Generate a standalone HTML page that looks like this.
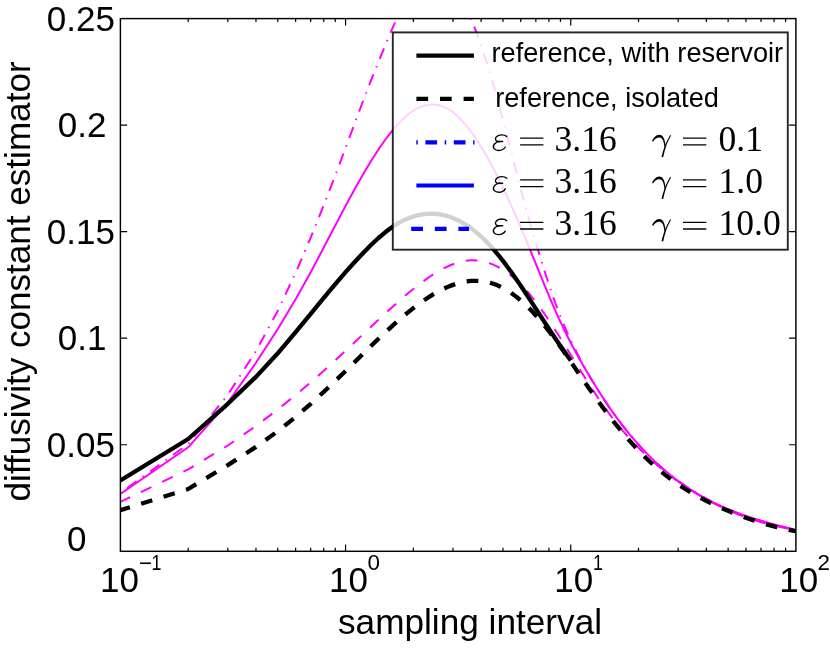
<!DOCTYPE html>
<html><head><meta charset="utf-8"><title>plot</title>
<style>html,body{margin:0;padding:0;background:#fff;}svg{display:block;will-change:transform;}text{font-family:"Liberation Sans",sans-serif;fill:#000;}.ser{font-family:"Liberation Serif",serif;}</style></head><body>
<svg width="830" height="651" viewBox="0 0 830 651">
<rect x="0" y="0" width="830" height="651" fill="#fff"/>
<defs><clipPath id="ax"><rect x="120.4" y="18.6" width="675.5" height="532.6999999999999"/></clipPath></defs>
<g clip-path="url(#ax)" fill="none" stroke-linejoin="round">
<path d="M120.40,492.90 L188.18,444.00 L227.83,394.78 L255.96,351.07 L277.78,310.70 L295.61,272.88 L310.69,237.62 L323.75,205.19 L335.26,175.44 L345.57,147.99 L354.89,122.80 L363.40,100.09 L371.22,79.86 L378.47,61.77 L385.22,45.41 L391.53,30.46 L397.46,16.98 L403.05,5.07 L408.33,-5.20 L413.35,-13.83 L418.12,-20.80 L422.67,-26.10 L427.02,-29.72 L431.18,-31.70 L435.17,-32.05" stroke="#ff00ff" stroke-width="2.0" stroke-dasharray="11.5 7.6 1.5 7.62" stroke-dashoffset="19.85"/>
<path d="M435.17,-32.05 L439.00,-30.93 L442.70,-28.61 L446.25,-25.33 L449.68,-21.28 L453.00,-16.65 L456.20,-11.56 L459.31,-6.13 L462.32,-0.41 L465.24,5.58 L468.07,11.80 L470.83,18.22 L473.51,24.83 L476.11,31.61 L478.65,38.52 L481.13,45.57 L483.55,52.73 L485.90,59.99 L488.20,67.34 L490.45,74.76 L492.65,82.25 L494.80,89.80 L496.90,97.37 L498.96,104.94 L500.98,112.47 L502.95,119.93 L504.89,127.28 L506.79,134.52 L508.65,141.71 L510.48,148.87 L512.27,155.97 L514.03,162.98 L515.76,169.86 L517.47,176.58 L519.14,183.12 L520.78,189.45 L522.40,195.54 L523.99,201.40 L525.55,207.05 L527.09,212.52 L528.61,217.84 L530.10,223.02 L531.57,228.09 L533.02,233.04 L534.45,237.88 L535.85,242.62 L537.24,247.26 L538.61,251.80 L539.96,256.24 L541.29,260.58 L542.60,264.82 L543.90,268.96 L545.17,273.00 L546.44,276.94 L547.68,280.77 L548.91,284.50 L550.13,288.13 L551.33,291.66 L552.51,295.09 L553.68,298.41 L554.84,301.64 L555.98,304.76 L557.12,307.79 L558.23,310.72 L559.34,313.57 L560.43,316.33 L561.51,319.01 L562.58,321.61 L563.64,324.15 L564.68,326.61 L565.72,329.01 L566.74,331.34 L567.75,333.62 L568.76,335.84 L569.75,338.01 L570.73,340.12 L571.71,342.19 L572.67,344.20 L573.62,346.18 L574.57,348.11 L575.50,350.00 L576.43,351.86 L577.35,353.67 L578.26,355.46 L579.16,357.20 L580.05,358.92 L580.94,360.60 L581.82,362.25 L582.68,363.87 L583.55,365.47 L584.40,367.03 L585.25,368.57 L586.09,370.08 L586.92,371.56 L587.74,373.02 L588.56,374.46 L589.37,375.87 L590.18,377.26 L590.98,378.63 L591.77,379.98 L592.55,381.30 L593.33,382.61 L594.11,383.89 L594.87,385.16 L595.63,386.41 L596.39,387.64 L597.14,388.85 L597.88,390.05 L598.62,391.23 L599.35,392.39 L600.08,393.54 L600.80,394.67 L601.52,395.79 L602.23,396.89 L602.94,397.97 L603.64,399.05 L604.33,400.11 L605.02,401.15 L605.71,402.18 L606.39,403.20 L607.07,404.20 L607.74,405.20 L608.41,406.18 L609.07,407.14 L609.73,408.10 L610.38,409.04 L611.03,409.97 L611.68,410.89 L612.32,411.80 L612.96,412.70 L613.59,413.59 L614.22,414.46 L614.84,415.33 L615.46,416.18 L616.08,417.03 L616.69,417.86 L617.30,418.69 L617.91,419.50 L618.51,420.31 L619.11,421.11 L619.70,421.89 L620.29,422.67 L620.88,423.44 L621.47,424.20 L622.05,424.96 L622.62,425.70 L623.20,426.44 L623.77,427.16 L624.33,427.88 L624.90,428.59 L625.46,429.30 L626.01,430.00 L626.57,430.68 L627.12,431.37 L627.67,432.04 L628.21,432.71 L628.75,433.37 L629.29,434.02 L629.83,434.66 L630.36,435.30 L630.89,435.94 L631.42,436.56 L631.94,437.18 L632.46,437.79 L632.98,438.40 L633.50,439.00 L634.01,439.60 L634.52,440.18 L635.03,440.77 L635.54,441.34 L636.04,441.92 L636.54,442.48 L637.04,443.04 L637.53,443.59 L638.03,444.14 L638.52,444.69 L639.00,445.23 L639.49,445.76 L639.97,446.29 L640.45,446.81 L640.93,447.33 L641.41,447.84 L641.88,448.35 L642.35,448.85 L642.82,449.35 L643.29,449.84 L643.75,450.33 L644.21,450.82 L644.67,451.30 L645.13,451.77 L645.59,452.24 L646.04,452.71 L646.49,453.17 L646.94,453.63 L647.39,454.09 L647.84,454.54 L648.28,454.98 L648.72,455.43 L649.16,455.87 L649.60,456.30 L650.03,456.73 L650.47,457.16 L650.90,457.58 L651.33,458.00 L651.76,458.42 L652.18,458.83 L652.61,459.24 L653.03,459.64 L653.45,460.05 L653.87,460.44 L654.29,460.84 L654.70,461.23 L655.11,461.62 L655.53,462.00 L655.94,462.39 L656.34,462.76 L656.75,463.14 L657.16,463.51 L657.56,463.88 L657.96,464.25 L658.36,464.61 L658.76,464.97 L659.16,465.33 L659.55,465.68 L659.94,466.04 L660.34,466.38 L660.73,466.73 L661.12,467.07 L661.50,467.41 L661.89,467.75 L662.27,468.09 L662.66,468.42 L663.04,468.75 L663.42,469.08 L663.79,469.40 L664.17,469.72 L664.55,470.04 L664.92,470.36 L665.29,470.68 L665.66,470.99 L666.03,471.30 L666.40,471.61 L666.77,471.91 L667.14,472.22 L667.50,472.52 L667.86,472.82 L668.22,473.11 L668.58,473.41 L668.94,473.70 L669.30,473.99 L669.66,474.27 L670.01,474.56 L670.37,474.84 L670.72,475.13 L671.07,475.40 L671.42,475.68 L671.77,475.96 L672.11,476.23 L672.46,476.50 L672.81,476.77 L673.15,477.04 L673.49,477.30 L673.83,477.57 L674.17,477.83 L674.51,478.09 L674.85,478.35 L675.19,478.60 L675.52,478.86 L675.86,479.11 L676.19,479.36 L676.52,479.61 L676.85,479.86 L677.18,480.10 L677.51,480.35 L677.84,480.59 L678.17,480.83 L678.49,481.07 L678.81,481.31 L679.14,481.54 L679.46,481.78 L679.78,482.01 L680.10,482.24 L680.42,482.47 L680.74,482.70 L681.06,482.93 L681.37,483.15 L681.69,483.37 L682.00,483.60 L682.31,483.82 L682.63,484.04 L682.94,484.25 L683.25,484.47 L683.56,484.69 L683.86,484.90 L684.17,485.11 L684.48,485.32 L684.78,485.53 L685.09,485.74 L685.39,485.95 L685.69,486.15 L685.99,486.36 L686.29,486.56 L686.59,486.76 L686.89,486.96 L687.19,487.16 L687.49,487.36 L687.78,487.55 L688.08,487.75 L688.37,487.94 L688.66,488.14 L688.96,488.33 L689.25,488.52 L689.54,488.71 L689.83,488.90 L690.12,489.08 L690.40,489.27 L690.69,489.45 L690.98,489.64 L691.26,489.82 L691.55,490.00 L691.83,490.18 L692.12,490.36 L692.40,490.54 L692.68,490.72 L692.96,490.89 L693.24,491.07 L693.52,491.24 L693.80,491.42 L694.07,491.59 L694.35,491.76 L694.63,491.93 L694.90,492.10 L695.18,492.27 L695.45,492.43 L695.72,492.60 L695.99,492.77 L696.27,492.93 L696.54,493.09 L696.81,493.26 L697.07,493.42 L697.34,493.58 L697.61,493.74 L697.88,493.90 L698.14,494.05 L698.41,494.21 L698.67,494.37 L698.94,494.52 L699.20,494.68 L699.46,494.83 L699.72,494.98 L699.99,495.14 L700.25,495.29 L700.51,495.44 L700.77,495.59 L701.02,495.73 L701.28,495.88 L701.54,496.03 L701.79,496.18 L702.05,496.32 L702.31,496.47 L702.56,496.61 L702.81,496.75 L703.07,496.90 L703.32,497.04 L703.57,497.18 L703.82,497.32 L704.07,497.46 L704.32,497.60 L704.57,497.73 L704.82,497.87 L705.07,498.01 L705.31,498.14 L705.56,498.28 L705.81,498.41 L706.05,498.55 L706.30,498.68 L706.54,498.81 L706.78,498.94 L707.03,499.07 L707.27,499.20 L707.51,499.33 L707.75,499.46 L707.99,499.59 L708.23,499.72 L708.47,499.84 L708.71,499.97 L708.95,500.10 L709.19,500.22 L709.42,500.34 L709.66,500.47 L709.90,500.59 L710.13,500.71 L710.37,500.84 L710.60,500.96 L710.84,501.08 L711.07,501.20 L711.30,501.32 L711.53,501.44 L711.76,501.55 L712.00,501.67 L712.23,501.79 L712.46,501.91 L712.68,502.02 L712.91,502.14 L713.14,502.25 L713.37,502.37 L713.60,502.48 L713.82,502.59 L714.05,502.71 L714.27,502.82 L714.50,502.93 L714.72,503.04 L714.95,503.15 L715.17,503.26 L715.39,503.37 L715.62,503.48 L715.84,503.59 L716.06,503.70 L716.28,503.80 L716.50,503.91 L716.72,504.02 L716.94,504.12 L717.16,504.23 L717.38,504.33 L717.60,504.44 L717.82,504.54 L718.03,504.64 L718.25,504.75 L718.46,504.85 L718.68,504.95 L718.90,505.05 L719.11,505.15 L719.32,505.26 L719.54,505.36 L719.75,505.46 L719.96,505.55 L720.18,505.65 L720.39,505.75 L720.60,505.85 L720.81,505.95 L721.02,506.04 L721.23,506.14 L721.44,506.24 L721.65,506.33 L721.86,506.43 L722.07,506.52 L722.28,506.62 L722.48,506.71 L722.69,506.80 L722.90,506.90 L723.10,506.99 L723.31,507.08 L723.51,507.18 L723.72,507.27 L723.92,507.36 L724.13,507.45 L724.33,507.54 L724.53,507.63 L724.74,507.72 L724.94,507.81 L725.14,507.90 L725.34,507.99 L725.54,508.07 L725.74,508.16 L725.94,508.25 L726.14,508.34 L726.34,508.42 L726.54,508.51 L726.74,508.59 L726.94,508.68 L727.14,508.76 L727.33,508.85 L727.53,508.93 L727.73,509.02 L727.92,509.10 L728.12,509.18 L728.31,509.27 L728.51,509.35 L728.70,509.43 L728.90,509.51 L729.09,509.60 L729.28,509.68 L729.48,509.76 L729.67,509.84 L729.86,509.92 L730.05,510.00 L730.25,510.08 L730.44,510.16 L730.63,510.24 L730.82,510.31 L731.01,510.39 L731.20,510.47 L731.39,510.55 L731.58,510.63 L731.77,510.70 L731.95,510.78 L732.14,510.86 L732.33,510.93 L732.52,511.01 L732.70,511.08 L732.89,511.16 L733.08,511.23 L733.26,511.31 L733.45,511.38 L733.63,511.46 L733.82,511.53 L734.00,511.60 L734.18,511.68 L734.37,511.75 L734.55,511.82 L734.73,511.89 L734.92,511.97 L735.10,512.04 L735.28,512.11 L735.46,512.18 L735.64,512.25 L735.82,512.32 L736.01,512.39 L736.19,512.46 L736.37,512.53 L736.55,512.60 L736.72,512.67 L736.90,512.74 L737.08,512.81 L737.26,512.88 L737.44,512.95 L737.62,513.01 L737.79,513.08 L737.97,513.15 L738.15,513.22 L738.32,513.28 L738.50,513.35 L738.68,513.42 L738.85,513.48 L739.03,513.55 L739.20,513.61 L739.37,513.68 L739.55,513.74 L739.72,513.81 L739.90,513.87 L740.07,513.94 L740.24,514.00 L740.42,514.07 L740.59,514.13 L740.76,514.19 L740.93,514.26 L741.10,514.32 L741.27,514.38 L741.44,514.45 L741.61,514.51 L741.79,514.57 L741.96,514.63 L742.12,514.69 L742.29,514.76 L742.46,514.82 L742.63,514.88 L742.80,514.94 L742.97,515.00 L743.14,515.06 L743.30,515.12 L743.47,515.18 L743.64,515.24 L743.81,515.30 L743.97,515.36 L744.14,515.42 L744.30,515.48 L744.47,515.54 L744.63,515.59 L744.80,515.65 L744.96,515.71 L745.13,515.77 L745.29,515.83 L745.46,515.88 L745.62,515.94 L745.78,516.00 L745.95,516.06 L746.11,516.11 L746.27,516.17 L746.43,516.22 L746.60,516.28 L746.76,516.34 L746.92,516.39 L747.08,516.45 L747.24,516.50 L747.40,516.56 L747.56,516.61 L747.72,516.67 L747.88,516.72 L748.04,516.78 L748.20,516.83 L748.36,516.89 L748.52,516.94 L748.68,516.99 L748.84,517.05 L749.00,517.10 L749.15,517.15 L749.31,517.21 L749.47,517.26 L749.63,517.31 L749.78,517.36 L749.94,517.42 L750.10,517.47 L750.25,517.52 L750.41,517.57 L750.56,517.62 L750.72,517.68 L750.87,517.73 L751.03,517.78 L751.18,517.83 L751.34,517.88 L751.49,517.93 L751.65,517.98 L751.80,518.03 L751.95,518.08 L752.11,518.13 L752.26,518.18 L752.41,518.23 L752.56,518.28 L752.72,518.33 L752.87,518.38 L753.02,518.43 L753.17,518.48 L753.32,518.53 L753.47,518.57 L753.62,518.62 L753.77,518.67 L753.92,518.72 L754.07,518.77 L754.22,518.82 L754.37,518.86 L754.52,518.91 L754.67,518.96 L754.82,519.01 L754.97,519.05 L755.12,519.10 L755.27,519.15 L755.42,519.19 L755.56,519.24 L755.71,519.29 L755.86,519.33 L756.01,519.38 L756.15,519.42 L756.30,519.47 L756.45,519.52 L756.59,519.56 L756.74,519.61 L756.88,519.65 L757.03,519.70 L757.17,519.74 L757.32,519.79 L757.46,519.83 L757.61,519.88 L757.75,519.92 L757.90,519.96 L758.04,520.01 L758.19,520.05 L758.33,520.10 L758.47,520.14 L758.62,520.18 L758.76,520.23 L758.90,520.27 L759.05,520.31 L759.19,520.36 L759.33,520.40 L759.47,520.44 L759.61,520.49 L759.76,520.53 L759.90,520.57 L760.04,520.61 L760.18,520.66 L760.32,520.70 L760.46,520.74 L760.60,520.78 L760.74,520.82 L760.88,520.87 L761.02,520.91 L761.16,520.95 L761.30,520.99 L761.44,521.03 L761.58,521.07 L761.72,521.11 L761.86,521.15 L761.99,521.20 L762.13,521.24 L762.27,521.28 L762.41,521.32 L762.55,521.36 L762.68,521.40 L762.82,521.44 L762.96,521.48 L763.09,521.52 L763.23,521.56 L763.37,521.60 L763.50,521.64 L763.64,521.68 L763.78,521.72 L763.91,521.75 L764.05,521.79 L764.18,521.83 L764.32,521.87 L764.45,521.91 L764.59,521.95 L764.72,521.99 L764.86,522.03 L764.99,522.06 L765.12,522.10 L765.26,522.14 L765.39,522.18 L765.53,522.22 L765.66,522.26 L765.79,522.29 L765.93,522.33 L766.06,522.37 L766.19,522.41 L766.32,522.44 L766.46,522.48 L766.59,522.52 L766.72,522.55 L766.85,522.59 L766.98,522.63 L767.11,522.67 L767.25,522.70 L767.38,522.74 L767.51,522.78 L767.64,522.81 L767.77,522.85 L767.90,522.88 L768.03,522.92 L768.16,522.96 L768.29,522.99 L768.42,523.03 L768.55,523.06 L768.68,523.10 L768.81,523.14 L768.93,523.17 L769.06,523.21 L769.19,523.24 L769.32,523.28 L769.45,523.31 L769.58,523.35 L769.70,523.38 L769.83,523.42 L769.96,523.45 L770.09,523.49 L770.21,523.52 L770.34,523.56 L770.47,523.59 L770.60,523.62 L770.72,523.66 L770.85,523.69 L770.97,523.73 L771.10,523.76 L771.23,523.80 L771.35,523.83 L771.48,523.86 L771.60,523.90 L771.73,523.93 L771.85,523.96 L771.98,524.00 L772.10,524.03 L772.23,524.06 L772.35,524.10 L772.48,524.13 L772.60,524.16 L772.73,524.20 L772.85,524.23 L772.97,524.26 L773.10,524.30 L773.22,524.33 L773.34,524.36 L773.47,524.39 L773.59,524.43 L773.71,524.46 L773.83,524.49 L773.96,524.52 L774.08,524.55 L774.20,524.59 L774.32,524.62 L774.45,524.65 L774.57,524.68 L774.69,524.71 L774.81,524.75 L774.93,524.78 L775.05,524.81 L775.17,524.84 L775.29,524.87 L775.41,524.90 L775.54,524.94 L775.66,524.97 L775.78,525.00 L775.90,525.03 L776.02,525.06 L776.14,525.09 L776.25,525.12 L776.37,525.15 L776.49,525.18 L776.61,525.21 L776.73,525.24 L776.85,525.27 L776.97,525.31 L777.09,525.34 L777.21,525.37 L777.32,525.40 L777.44,525.43 L777.56,525.46 L777.68,525.49 L777.80,525.52 L777.91,525.55 L778.03,525.58 L778.15,525.61 L778.27,525.64 L778.38,525.67 L778.50,525.70 L778.62,525.72 L778.73,525.75 L778.85,525.78 L778.97,525.81 L779.08,525.84 L779.20,525.87 L779.31,525.90 L779.43,525.93 L779.55,525.96 L779.66,525.99 L779.78,526.02 L779.89,526.05 L780.01,526.07 L780.12,526.10 L780.24,526.13 L780.35,526.16 L780.47,526.19 L780.58,526.22 L780.70,526.25 L780.81,526.27 L780.92,526.30 L781.04,526.33 L781.15,526.36 L781.26,526.39 L781.38,526.42 L781.49,526.44 L781.61,526.47 L781.72,526.50 L781.83,526.53 L781.94,526.56 L782.06,526.58 L782.17,526.61 L782.28,526.64 L782.39,526.67 L782.51,526.69 L782.62,526.72 L782.73,526.75 L782.84,526.78 L782.95,526.80 L783.07,526.83 L783.18,526.86 L783.29,526.89 L783.40,526.91 L783.51,526.94 L783.62,526.97 L783.73,526.99 L783.84,527.02 L783.95,527.05 L784.06,527.07 L784.17,527.10 L784.28,527.13 L784.39,527.15 L784.50,527.18 L784.61,527.21 L784.72,527.23 L784.83,527.26 L784.94,527.29 L785.05,527.31 L785.16,527.34 L785.27,527.37 L785.38,527.39 L785.49,527.42 L785.60,527.44 L785.71,527.47 L785.81,527.50 L785.92,527.52 L786.03,527.55 L786.14,527.57 L786.25,527.60 L786.35,527.63 L786.46,527.65 L786.57,527.68 L786.68,527.70 L786.78,527.73 L786.89,527.75 L787.00,527.78 L787.11,527.80 L787.21,527.83 L787.32,527.86 L787.43,527.88 L787.53,527.91 L787.64,527.93 L787.75,527.96 L787.85,527.98 L787.96,528.01 L788.06,528.03 L788.17,528.06 L788.28,528.08 L788.38,528.11 L788.49,528.13 L788.59,528.16 L788.70,528.18 L788.80,528.21 L788.91,528.23 L789.01,528.25 L789.12,528.28 L789.22,528.30 L789.33,528.33 L789.43,528.35 L789.54,528.38 L789.64,528.40 L789.75,528.43 L789.85,528.45 L789.95,528.47 L790.06,528.50 L790.16,528.52 L790.26,528.55 L790.37,528.57 L790.47,528.60 L790.57,528.62 L790.68,528.64 L790.78,528.67 L790.88,528.69 L790.99,528.72 L791.09,528.74 L791.19,528.76 L791.29,528.79 L791.40,528.81 L791.50,528.83 L791.60,528.86 L791.70,528.88 L791.81,528.90 L791.91,528.93 L792.01,528.95 L792.11,528.98 L792.21,529.00 L792.31,529.02 L792.42,529.05 L792.52,529.07 L792.62,529.09 L792.72,529.12 L792.82,529.14 L792.92,529.16 L793.02,529.18 L793.12,529.21 L793.22,529.23 L793.32,529.25 L793.42,529.28 L793.52,529.30 L793.62,529.32 L793.72,529.35 L793.82,529.37 L793.92,529.39 L794.02,529.41 L794.12,529.44 L794.22,529.46 L794.32,529.48 L794.42,529.50 L794.52,529.53 L794.62,529.55 L794.72,529.57 L794.82,529.59 L794.92,529.62 L795.02,529.64 L795.11,529.66 L795.21,529.68 L795.31,529.71 L795.41,529.73 L795.51,529.75 L795.61,529.77 L795.70,529.79 L795.80,529.82 L795.90,529.84" stroke="#ff00ff" stroke-width="2.0" stroke-dasharray="11.5 7.6 1.5 7.62" stroke-dashoffset="12.13"/>
<path d="M120.40,493.90 L188.18,447.30 L227.83,402.54 L255.96,362.79 L277.78,328.99 L295.61,299.33 L310.69,272.27 L323.75,247.55 L335.26,225.42 L345.57,205.86 L354.89,188.70 L363.40,173.72 L371.22,160.70 L378.47,149.44 L385.22,139.76 L391.53,131.53 L397.46,124.61 L403.05,118.90 L408.33,114.29 L413.35,110.69 L418.12,107.98 L422.67,106.09 L427.02,104.94 L431.18,104.44 L435.17,104.55 L439.00,105.21 L442.70,106.37 L446.25,107.98 L449.68,110.00 L453.00,112.37 L456.20,115.03 L459.31,117.94 L462.32,121.07 L465.24,124.38 L468.07,127.85 L470.83,131.45 L473.51,135.15 L476.11,138.95 L478.65,142.82 L481.13,146.75 L483.55,150.73 L485.90,154.76 L488.20,158.82 L490.45,162.90 L492.65,167.01 L494.80,171.13 L496.90,175.25 L498.96,179.38 L500.98,183.49 L502.95,187.60 L504.89,191.70 L506.79,195.78 L508.65,199.84 L510.48,203.87 L512.27,207.88 L514.03,211.86 L515.76,215.81 L517.47,219.73 L519.14,223.62 L520.78,227.47 L522.40,231.29 L523.99,235.07 L525.55,238.81 L527.09,242.52 L528.61,246.18 L530.10,249.81 L531.57,253.40 L533.02,256.94 L534.45,260.45 L535.85,263.90 L537.24,267.31 L538.61,270.67 L539.96,273.97 L541.29,277.23 L542.60,280.44 L543.90,283.59 L545.17,286.68 L546.44,289.73 L547.68,292.71 L548.91,295.64 L550.13,298.52 L551.33,301.34 L552.51,304.10 L553.68,306.81 L554.84,309.46 L555.98,312.06 L557.12,314.59 L558.23,317.07 L559.34,319.50 L560.43,321.87 L561.51,324.18 L562.58,326.44 L563.64,328.65 L564.68,330.81 L565.72,332.92 L566.74,334.98 L567.75,337.00 L568.76,338.98 L569.75,340.92 L570.73,342.82 L571.71,344.68 L572.67,346.51 L573.62,348.30 L574.57,350.06 L575.50,351.78 L576.43,353.48 L577.35,355.14 L578.26,356.78 L579.16,358.39 L580.05,359.98 L580.94,361.54 L581.82,363.07 L582.68,364.58 L583.55,366.07 L584.40,367.54 L585.25,368.99 L586.09,370.41 L586.92,371.82 L587.74,373.21 L588.56,374.58 L589.37,375.94 L590.18,377.27 L590.98,378.60 L591.77,379.90 L592.55,381.19 L593.33,382.47 L594.11,383.72 L594.87,384.97 L595.63,386.20 L596.39,387.41 L597.14,388.61 L597.88,389.79 L598.62,390.96 L599.35,392.11 L600.08,393.26 L600.80,394.38 L601.52,395.49 L602.23,396.59 L602.94,397.68 L603.64,398.75 L604.33,399.81 L605.02,400.86 L605.71,401.89 L606.39,402.91 L607.07,403.92 L607.74,404.92 L608.41,405.90 L609.07,406.87 L609.73,407.83 L610.38,408.78 L611.03,409.71 L611.68,410.64 L612.32,411.55 L612.96,412.45 L613.59,413.34 L614.22,414.22 L614.84,415.09 L615.46,415.95 L616.08,416.80 L616.69,417.64 L617.30,418.47 L617.91,419.29 L618.51,420.10 L619.11,420.90 L619.70,421.69 L620.29,422.47 L620.88,423.25 L621.47,424.01 L622.05,424.77 L622.62,425.52 L623.20,426.26 L623.77,426.99 L624.33,427.71 L624.90,428.43 L625.46,429.14 L626.01,429.84 L626.57,430.53 L627.12,431.22 L627.67,431.89 L628.21,432.57 L628.75,433.23 L629.29,433.89 L629.83,434.54 L630.36,435.18 L630.89,435.82 L631.42,436.45 L631.94,437.07 L632.46,437.69 L632.98,438.30 L633.50,438.90 L634.01,439.50 L634.52,440.09 L635.03,440.68 L635.54,441.26 L636.04,441.83 L636.54,442.40 L637.04,442.97 L637.53,443.52 L638.03,444.08 L638.52,444.62 L639.00,445.16 L639.49,445.70 L639.97,446.23 L640.45,446.76 L640.93,447.28 L641.41,447.80 L641.88,448.31 L642.35,448.81 L642.82,449.32 L643.29,449.81 L643.75,450.31 L644.21,450.79 L644.67,451.28 L645.13,451.76 L645.59,452.23 L646.04,452.70 L646.49,453.17 L646.94,453.63 L647.39,454.09 L647.84,454.54 L648.28,454.99 L648.72,455.43 L649.16,455.88 L649.60,456.31 L650.03,456.75 L650.47,457.18 L650.90,457.60 L651.33,458.03 L651.76,458.44 L652.18,458.86 L652.61,459.27 L653.03,459.68 L653.45,460.08 L653.87,460.48 L654.29,460.88 L654.70,461.28 L655.11,461.67 L655.53,462.06 L655.94,462.44 L656.34,462.82 L656.75,463.20 L657.16,463.57 L657.56,463.95 L657.96,464.31 L658.36,464.68 L658.76,465.04 L659.16,465.40 L659.55,465.76 L659.94,466.11 L660.34,466.46 L660.73,466.81 L661.12,467.16 L661.50,467.50 L661.89,467.84 L662.27,468.18 L662.66,468.51 L663.04,468.84 L663.42,469.17 L663.79,469.50 L664.17,469.82 L664.55,470.15 L664.92,470.47 L665.29,470.78 L665.66,471.10 L666.03,471.41 L666.40,471.72 L666.77,472.02 L667.14,472.33 L667.50,472.63 L667.86,472.93 L668.22,473.23 L668.58,473.53 L668.94,473.82 L669.30,474.11 L669.66,474.40 L670.01,474.69 L670.37,474.97 L670.72,475.25 L671.07,475.53 L671.42,475.81 L671.77,476.09 L672.11,476.36 L672.46,476.64 L672.81,476.91 L673.15,477.18 L673.49,477.44 L673.83,477.71 L674.17,477.97 L674.51,478.23 L674.85,478.49 L675.19,478.75 L675.52,479.00 L675.86,479.26 L676.19,479.51 L676.52,479.76 L676.85,480.01 L677.18,480.25 L677.51,480.50 L677.84,480.74 L678.17,480.98 L678.49,481.22 L678.81,481.46 L679.14,481.70 L679.46,481.93 L679.78,482.17 L680.10,482.40 L680.42,482.63 L680.74,482.86 L681.06,483.08 L681.37,483.31 L681.69,483.53 L682.00,483.76 L682.31,483.98 L682.63,484.20 L682.94,484.42 L683.25,484.63 L683.56,484.85 L683.86,485.06 L684.17,485.27 L684.48,485.48 L684.78,485.69 L685.09,485.90 L685.39,486.11 L685.69,486.32 L685.99,486.52 L686.29,486.72 L686.59,486.92 L686.89,487.13 L687.19,487.32 L687.49,487.52 L687.78,487.72 L688.08,487.91 L688.37,488.11 L688.66,488.30 L688.96,488.49 L689.25,488.68 L689.54,488.87 L689.83,489.06 L690.12,489.25 L690.40,489.43 L690.69,489.62 L690.98,489.80 L691.26,489.98 L691.55,490.17 L691.83,490.35 L692.12,490.53 L692.40,490.70 L692.68,490.88 L692.96,491.06 L693.24,491.23 L693.52,491.40 L693.80,491.58 L694.07,491.75 L694.35,491.92 L694.63,492.09 L694.90,492.26 L695.18,492.43 L695.45,492.59 L695.72,492.76 L695.99,492.92 L696.27,493.09 L696.54,493.25 L696.81,493.41 L697.07,493.57 L697.34,493.73 L697.61,493.89 L697.88,494.05 L698.14,494.21 L698.41,494.36 L698.67,494.52 L698.94,494.67 L699.20,494.83 L699.46,494.98 L699.72,495.13 L699.99,495.28 L700.25,495.43 L700.51,495.58 L700.77,495.73 L701.02,495.88 L701.28,496.02 L701.54,496.17 L701.79,496.31 L702.05,496.46 L702.31,496.60 L702.56,496.75 L702.81,496.89 L703.07,497.03 L703.32,497.17 L703.57,497.31 L703.82,497.45 L704.07,497.59 L704.32,497.72 L704.57,497.86 L704.82,498.00 L705.07,498.13 L705.31,498.27 L705.56,498.40 L705.81,498.53 L706.05,498.66 L706.30,498.80 L706.54,498.93 L706.78,499.06 L707.03,499.19 L707.27,499.32 L707.51,499.44 L707.75,499.57 L707.99,499.70 L708.23,499.82 L708.47,499.95 L708.71,500.07 L708.95,500.20 L709.19,500.32 L709.42,500.45 L709.66,500.57 L709.90,500.69 L710.13,500.81 L710.37,500.93 L710.60,501.05 L710.84,501.17 L711.07,501.29 L711.30,501.41 L711.53,501.52 L711.76,501.64 L712.00,501.76 L712.23,501.87 L712.46,501.99 L712.68,502.10 L712.91,502.22 L713.14,502.33 L713.37,502.44 L713.60,502.55 L713.82,502.67 L714.05,502.78 L714.27,502.89 L714.50,503.00 L714.72,503.11 L714.95,503.22 L715.17,503.32 L715.39,503.43 L715.62,503.54 L715.84,503.65 L716.06,503.75 L716.28,503.86 L716.50,503.96 L716.72,504.07 L716.94,504.17 L717.16,504.28 L717.38,504.38 L717.60,504.48 L717.82,504.59 L718.03,504.69 L718.25,504.79 L718.46,504.89 L718.68,504.99 L718.90,505.09 L719.11,505.19 L719.32,505.29 L719.54,505.39 L719.75,505.49 L719.96,505.58 L720.18,505.68 L720.39,505.78 L720.60,505.87 L720.81,505.97 L721.02,506.06 L721.23,506.16 L721.44,506.25 L721.65,506.35 L721.86,506.44 L722.07,506.54 L722.28,506.63 L722.48,506.72 L722.69,506.81 L722.90,506.90 L723.10,507.00 L723.31,507.09 L723.51,507.18 L723.72,507.27 L723.92,507.36 L724.13,507.45 L724.33,507.53 L724.53,507.62 L724.74,507.71 L724.94,507.80 L725.14,507.89 L725.34,507.97 L725.54,508.06 L725.74,508.14 L725.94,508.23 L726.14,508.32 L726.34,508.40 L726.54,508.49 L726.74,508.57 L726.94,508.65 L727.14,508.74 L727.33,508.82 L727.53,508.90 L727.73,508.99 L727.92,509.07 L728.12,509.15 L728.31,509.23 L728.51,509.31 L728.70,509.39 L728.90,509.47 L729.09,509.55 L729.28,509.63 L729.48,509.71 L729.67,509.79 L729.86,509.87 L730.05,509.95 L730.25,510.03 L730.44,510.11 L730.63,510.18 L730.82,510.26 L731.01,510.34 L731.20,510.41 L731.39,510.49 L731.58,510.57 L731.77,510.64 L731.95,510.72 L732.14,510.79 L732.33,510.87 L732.52,510.94 L732.70,511.02 L732.89,511.09 L733.08,511.16 L733.26,511.24 L733.45,511.31 L733.63,511.38 L733.82,511.45 L734.00,511.53 L734.18,511.60 L734.37,511.67 L734.55,511.74 L734.73,511.81 L734.92,511.88 L735.10,511.95 L735.28,512.02 L735.46,512.09 L735.64,512.16 L735.82,512.23 L736.01,512.30 L736.19,512.37 L736.37,512.44 L736.55,512.51 L736.72,512.57 L736.90,512.64 L737.08,512.71 L737.26,512.78 L737.44,512.84 L737.62,512.91 L737.79,512.98 L737.97,513.04 L738.15,513.11 L738.32,513.18 L738.50,513.24 L738.68,513.31 L738.85,513.37 L739.03,513.44 L739.20,513.50 L739.37,513.57 L739.55,513.63 L739.72,513.69 L739.90,513.76 L740.07,513.82 L740.24,513.88 L740.42,513.95 L740.59,514.01 L740.76,514.07 L740.93,514.13 L741.10,514.20 L741.27,514.26 L741.44,514.32 L741.61,514.38 L741.79,514.44 L741.96,514.50 L742.12,514.56 L742.29,514.62 L742.46,514.68 L742.63,514.74 L742.80,514.80 L742.97,514.86 L743.14,514.92 L743.30,514.98 L743.47,515.04 L743.64,515.10 L743.81,515.16 L743.97,515.22 L744.14,515.28 L744.30,515.33 L744.47,515.39 L744.63,515.45 L744.80,515.51 L744.96,515.56 L745.13,515.62 L745.29,515.68 L745.46,515.74 L745.62,515.79 L745.78,515.85 L745.95,515.90 L746.11,515.96 L746.27,516.02 L746.43,516.07 L746.60,516.13 L746.76,516.18 L746.92,516.24 L747.08,516.29 L747.24,516.35 L747.40,516.40 L747.56,516.46 L747.72,516.51 L747.88,516.56 L748.04,516.62 L748.20,516.67 L748.36,516.72 L748.52,516.78 L748.68,516.83 L748.84,516.88 L749.00,516.94 L749.15,516.99 L749.31,517.04 L749.47,517.09 L749.63,517.15 L749.78,517.20 L749.94,517.25 L750.10,517.30 L750.25,517.35 L750.41,517.40 L750.56,517.45 L750.72,517.51 L750.87,517.56 L751.03,517.61 L751.18,517.66 L751.34,517.71 L751.49,517.76 L751.65,517.81 L751.80,517.86 L751.95,517.91 L752.11,517.96 L752.26,518.01 L752.41,518.06 L752.56,518.10 L752.72,518.15 L752.87,518.20 L753.02,518.25 L753.17,518.30 L753.32,518.35 L753.47,518.40 L753.62,518.44 L753.77,518.49 L753.92,518.54 L754.07,518.59 L754.22,518.64 L754.37,518.68 L754.52,518.73 L754.67,518.78 L754.82,518.82 L754.97,518.87 L755.12,518.92 L755.27,518.96 L755.42,519.01 L755.56,519.06 L755.71,519.10 L755.86,519.15 L756.01,519.20 L756.15,519.24 L756.30,519.29 L756.45,519.33 L756.59,519.38 L756.74,519.42 L756.88,519.47 L757.03,519.51 L757.17,519.56 L757.32,519.60 L757.46,519.65 L757.61,519.69 L757.75,519.74 L757.90,519.78 L758.04,519.82 L758.19,519.87 L758.33,519.91 L758.47,519.96 L758.62,520.00 L758.76,520.04 L758.90,520.09 L759.05,520.13 L759.19,520.17 L759.33,520.22 L759.47,520.26 L759.61,520.30 L759.76,520.34 L759.90,520.39 L760.04,520.43 L760.18,520.47 L760.32,520.51 L760.46,520.56 L760.60,520.60 L760.74,520.64 L760.88,520.68 L761.02,520.72 L761.16,520.77 L761.30,520.81 L761.44,520.85 L761.58,520.89 L761.72,520.93 L761.86,520.97 L761.99,521.01 L762.13,521.05 L762.27,521.10 L762.41,521.14 L762.55,521.18 L762.68,521.22 L762.82,521.26 L762.96,521.30 L763.09,521.34 L763.23,521.38 L763.37,521.42 L763.50,521.46 L763.64,521.50 L763.78,521.54 L763.91,521.58 L764.05,521.62 L764.18,521.66 L764.32,521.69 L764.45,521.73 L764.59,521.77 L764.72,521.81 L764.86,521.85 L764.99,521.89 L765.12,521.93 L765.26,521.97 L765.39,522.01 L765.53,522.04 L765.66,522.08 L765.79,522.12 L765.93,522.16 L766.06,522.20 L766.19,522.23 L766.32,522.27 L766.46,522.31 L766.59,522.35 L766.72,522.39 L766.85,522.42 L766.98,522.46 L767.11,522.50 L767.25,522.53 L767.38,522.57 L767.51,522.61 L767.64,522.65 L767.77,522.68 L767.90,522.72 L768.03,522.76 L768.16,522.79 L768.29,522.83 L768.42,522.87 L768.55,522.90 L768.68,522.94 L768.81,522.98 L768.93,523.01 L769.06,523.05 L769.19,523.08 L769.32,523.12 L769.45,523.16 L769.58,523.19 L769.70,523.23 L769.83,523.26 L769.96,523.30 L770.09,523.33 L770.21,523.37 L770.34,523.40 L770.47,523.44 L770.60,523.47 L770.72,523.51 L770.85,523.55 L770.97,523.58 L771.10,523.61 L771.23,523.65 L771.35,523.68 L771.48,523.72 L771.60,523.75 L771.73,523.79 L771.85,523.82 L771.98,523.86 L772.10,523.89 L772.23,523.93 L772.35,523.96 L772.48,523.99 L772.60,524.03 L772.73,524.06 L772.85,524.10 L772.97,524.13 L773.10,524.16 L773.22,524.20 L773.34,524.23 L773.47,524.26 L773.59,524.30 L773.71,524.33 L773.83,524.36 L773.96,524.40 L774.08,524.43 L774.20,524.46 L774.32,524.50 L774.45,524.53 L774.57,524.56 L774.69,524.60 L774.81,524.63 L774.93,524.66 L775.05,524.69 L775.17,524.73 L775.29,524.76 L775.41,524.79 L775.54,524.82 L775.66,524.86 L775.78,524.89 L775.90,524.92 L776.02,524.95 L776.14,524.99 L776.25,525.02 L776.37,525.05 L776.49,525.08 L776.61,525.11 L776.73,525.14 L776.85,525.18 L776.97,525.21 L777.09,525.24 L777.21,525.27 L777.32,525.30 L777.44,525.33 L777.56,525.37 L777.68,525.40 L777.80,525.43 L777.91,525.46 L778.03,525.49 L778.15,525.52 L778.27,525.55 L778.38,525.58 L778.50,525.62 L778.62,525.65 L778.73,525.68 L778.85,525.71 L778.97,525.74 L779.08,525.77 L779.20,525.80 L779.31,525.83 L779.43,525.86 L779.55,525.89 L779.66,525.92 L779.78,525.95 L779.89,525.98 L780.01,526.01 L780.12,526.04 L780.24,526.07 L780.35,526.10 L780.47,526.13 L780.58,526.16 L780.70,526.19 L780.81,526.22 L780.92,526.25 L781.04,526.28 L781.15,526.31 L781.26,526.34 L781.38,526.37 L781.49,526.40 L781.61,526.43 L781.72,526.46 L781.83,526.49 L781.94,526.52 L782.06,526.55 L782.17,526.58 L782.28,526.61 L782.39,526.64 L782.51,526.67 L782.62,526.69 L782.73,526.72 L782.84,526.75 L782.95,526.78 L783.07,526.81 L783.18,526.84 L783.29,526.87 L783.40,526.90 L783.51,526.93 L783.62,526.96 L783.73,526.98 L783.84,527.01 L783.95,527.04 L784.06,527.07 L784.17,527.10 L784.28,527.13 L784.39,527.15 L784.50,527.18 L784.61,527.21 L784.72,527.24 L784.83,527.27 L784.94,527.30 L785.05,527.32 L785.16,527.35 L785.27,527.38 L785.38,527.41 L785.49,527.44 L785.60,527.46 L785.71,527.49 L785.81,527.52 L785.92,527.55 L786.03,527.58 L786.14,527.60 L786.25,527.63 L786.35,527.66 L786.46,527.69 L786.57,527.71 L786.68,527.74 L786.78,527.77 L786.89,527.80 L787.00,527.82 L787.11,527.85 L787.21,527.88 L787.32,527.91 L787.43,527.93 L787.53,527.96 L787.64,527.99 L787.75,528.02 L787.85,528.04 L787.96,528.07 L788.06,528.10 L788.17,528.12 L788.28,528.15 L788.38,528.18 L788.49,528.20 L788.59,528.23 L788.70,528.26 L788.80,528.28 L788.91,528.31 L789.01,528.34 L789.12,528.37 L789.22,528.39 L789.33,528.42 L789.43,528.44 L789.54,528.47 L789.64,528.50 L789.75,528.52 L789.85,528.55 L789.95,528.58 L790.06,528.60 L790.16,528.63 L790.26,528.66 L790.37,528.68 L790.47,528.71 L790.57,528.74 L790.68,528.76 L790.78,528.79 L790.88,528.81 L790.99,528.84 L791.09,528.87 L791.19,528.89 L791.29,528.92 L791.40,528.94 L791.50,528.97 L791.60,529.00 L791.70,529.02 L791.81,529.05 L791.91,529.07 L792.01,529.10 L792.11,529.12 L792.21,529.15 L792.31,529.18 L792.42,529.20 L792.52,529.23 L792.62,529.25 L792.72,529.28 L792.82,529.30 L792.92,529.33 L793.02,529.35 L793.12,529.38 L793.22,529.41 L793.32,529.43 L793.42,529.46 L793.52,529.48 L793.62,529.51 L793.72,529.53 L793.82,529.56 L793.92,529.58 L794.02,529.61 L794.12,529.63 L794.22,529.66 L794.32,529.68 L794.42,529.71 L794.52,529.73 L794.62,529.76 L794.72,529.78 L794.82,529.81 L794.92,529.83 L795.02,529.86 L795.11,529.88 L795.21,529.91 L795.31,529.93 L795.41,529.96 L795.51,529.98 L795.61,530.01 L795.70,530.03 L795.80,530.06 L795.90,530.08" stroke="#ff00ff" stroke-width="2.0"/>
<path d="M120.40,501.90 L188.18,469.40 L227.83,445.50 L255.96,426.01 L277.78,409.47 L295.61,395.09 L310.69,382.33 L323.75,370.85 L335.26,360.40 L345.57,350.81 L354.89,342.01 L363.40,333.93 L371.22,326.51 L378.47,319.71 L385.22,313.46 L391.53,307.72 L397.46,302.43 L403.05,297.57 L408.33,293.10 L413.35,288.98 L418.12,285.20 L422.67,281.74 L427.02,278.59 L431.18,275.74 L435.17,273.18 L439.00,270.89 L442.70,268.86 L446.25,267.07 L449.68,265.53 L453.00,264.20 L456.20,263.09 L459.31,262.18 L462.32,261.46 L465.24,260.92 L468.07,260.56 L470.83,260.36 L473.51,260.32 L476.11,260.42 L478.65,260.66 L481.13,261.03 L483.55,261.51 L485.90,262.09 L488.20,262.78 L490.45,263.56 L492.65,264.42 L494.80,265.37 L496.90,266.38 L498.96,267.47 L500.98,268.62 L502.95,269.83 L504.89,271.09 L506.79,272.41 L508.65,273.78 L510.48,275.19 L512.27,276.64 L514.03,278.13 L515.76,279.66 L517.47,281.23 L519.14,282.82 L520.78,284.45 L522.40,286.10 L523.99,287.78 L525.55,289.49 L527.09,291.22 L528.61,292.97 L530.10,294.74 L531.57,296.53 L533.02,298.33 L534.45,300.15 L535.85,301.98 L537.24,303.82 L538.61,305.66 L539.96,307.51 L541.29,309.37 L542.60,311.22 L543.90,313.07 L545.17,314.92 L546.44,316.77 L547.68,318.61 L548.91,320.45 L550.13,322.28 L551.33,324.10 L552.51,325.91 L553.68,327.71 L554.84,329.50 L555.98,331.29 L557.12,333.05 L558.23,334.81 L559.34,336.55 L560.43,338.28 L561.51,340.00 L562.58,341.70 L563.64,343.39 L564.68,345.07 L565.72,346.73 L566.74,348.37 L567.75,350.01 L568.76,351.62 L569.75,353.22 L570.73,354.81 L571.71,356.38 L572.67,357.94 L573.62,359.48 L574.57,361.00 L575.50,362.52 L576.43,364.01 L577.35,365.49 L578.26,366.95 L579.16,368.40 L580.05,369.84 L580.94,371.26 L581.82,372.66 L582.68,374.05 L583.55,375.42 L584.40,376.78 L585.25,378.12 L586.09,379.45 L586.92,380.76 L587.74,382.06 L588.56,383.34 L589.37,384.61 L590.18,385.86 L590.98,387.10 L591.77,388.32 L592.55,389.53 L593.33,390.72 L594.11,391.90 L594.87,393.07 L595.63,394.22 L596.39,395.36 L597.14,396.48 L597.88,397.59 L598.62,398.69 L599.35,399.77 L600.08,400.84 L600.80,401.89 L601.52,402.93 L602.23,403.96 L602.94,404.98 L603.64,405.98 L604.33,406.97 L605.02,407.94 L605.71,408.90 L606.39,409.85 L607.07,410.79 L607.74,411.72 L608.41,412.63 L609.07,413.53 L609.73,414.41 L610.38,415.29 L611.03,416.15 L611.68,417.00 L612.32,417.84 L612.96,418.67 L613.59,419.49 L614.22,420.30 L614.84,421.10 L615.46,421.89 L616.08,422.66 L616.69,423.43 L617.30,424.19 L617.91,424.94 L618.51,425.68 L619.11,426.41 L619.70,427.13 L620.29,427.84 L620.88,428.55 L621.47,429.24 L622.05,429.93 L622.62,430.61 L623.20,431.28 L623.77,431.94 L624.33,432.60 L624.90,433.25 L625.46,433.89 L626.01,434.52 L626.57,435.15 L627.12,435.77 L627.67,436.38 L628.21,436.99 L628.75,437.59 L629.29,438.18 L629.83,438.76 L630.36,439.34 L630.89,439.92 L631.42,440.49 L631.94,441.05 L632.46,441.60 L632.98,442.15 L633.50,442.70 L634.01,443.24 L634.52,443.77 L635.03,444.30 L635.54,444.82 L636.04,445.34 L636.54,445.85 L637.04,446.36 L637.53,446.86 L638.03,447.36 L638.52,447.85 L639.00,448.34 L639.49,448.82 L639.97,449.30 L640.45,449.77 L640.93,450.24 L641.41,450.71 L641.88,451.17 L642.35,451.63 L642.82,452.08 L643.29,452.53 L643.75,452.97 L644.21,453.41 L644.67,453.85 L645.13,454.28 L645.59,454.71 L646.04,455.13 L646.49,455.56 L646.94,455.97 L647.39,456.39 L647.84,456.80 L648.28,457.21 L648.72,457.61 L649.16,458.01 L649.60,458.41 L650.03,458.80 L650.47,459.19 L650.90,459.58 L651.33,459.97 L651.76,460.35 L652.18,460.73 L652.61,461.10 L653.03,461.47 L653.45,461.84 L653.87,462.21 L654.29,462.57 L654.70,462.94 L655.11,463.29 L655.53,463.65 L655.94,464.00 L656.34,464.35 L656.75,464.70 L657.16,465.05 L657.56,465.39 L657.96,465.73 L658.36,466.07 L658.76,466.40 L659.16,466.74 L659.55,467.07 L659.94,467.40 L660.34,467.72 L660.73,468.05 L661.12,468.37 L661.50,468.69 L661.89,469.00 L662.27,469.32 L662.66,469.63 L663.04,469.94 L663.42,470.25 L663.79,470.55 L664.17,470.86 L664.55,471.16 L664.92,471.46 L665.29,471.76 L665.66,472.05 L666.03,472.35 L666.40,472.64 L666.77,472.93 L667.14,473.21 L667.50,473.50 L667.86,473.78 L668.22,474.07 L668.58,474.35 L668.94,474.62 L669.30,474.90 L669.66,475.17 L670.01,475.45 L670.37,475.72 L670.72,475.99 L671.07,476.25 L671.42,476.52 L671.77,476.78 L672.11,477.05 L672.46,477.31 L672.81,477.57 L673.15,477.82 L673.49,478.08 L673.83,478.33 L674.17,478.58 L674.51,478.84 L674.85,479.08 L675.19,479.33 L675.52,479.58 L675.86,479.82 L676.19,480.07 L676.52,480.31 L676.85,480.55 L677.18,480.79 L677.51,481.02 L677.84,481.26 L678.17,481.49 L678.49,481.73 L678.81,481.96 L679.14,482.19 L679.46,482.41 L679.78,482.64 L680.10,482.87 L680.42,483.09 L680.74,483.31 L681.06,483.54 L681.37,483.76 L681.69,483.98 L682.00,484.19 L682.31,484.41 L682.63,484.63 L682.94,484.84 L683.25,485.05 L683.56,485.26 L683.86,485.47 L684.17,485.68 L684.48,485.89 L684.78,486.10 L685.09,486.30 L685.39,486.51 L685.69,486.71 L685.99,486.91 L686.29,487.11 L686.59,487.31 L686.89,487.51 L687.19,487.71 L687.49,487.90 L687.78,488.10 L688.08,488.29 L688.37,488.48 L688.66,488.68 L688.96,488.87 L689.25,489.06 L689.54,489.25 L689.83,489.43 L690.12,489.62 L690.40,489.80 L690.69,489.99 L690.98,490.17 L691.26,490.35 L691.55,490.54 L691.83,490.72 L692.12,490.90 L692.40,491.07 L692.68,491.25 L692.96,491.43 L693.24,491.60 L693.52,491.78 L693.80,491.95 L694.07,492.12 L694.35,492.30 L694.63,492.47 L694.90,492.64 L695.18,492.81 L695.45,492.97 L695.72,493.14 L695.99,493.31 L696.27,493.47 L696.54,493.64 L696.81,493.80 L697.07,493.97 L697.34,494.13 L697.61,494.29 L697.88,494.45 L698.14,494.61 L698.41,494.77 L698.67,494.93 L698.94,495.08 L699.20,495.24 L699.46,495.39 L699.72,495.55 L699.99,495.70 L700.25,495.86 L700.51,496.01 L700.77,496.16 L701.02,496.31 L701.28,496.46 L701.54,496.61 L701.79,496.76 L702.05,496.91 L702.31,497.05 L702.56,497.20 L702.81,497.34 L703.07,497.49 L703.32,497.63 L703.57,497.78 L703.82,497.92 L704.07,498.06 L704.32,498.20 L704.57,498.34 L704.82,498.48 L705.07,498.62 L705.31,498.76 L705.56,498.90 L705.81,499.04 L706.05,499.17 L706.30,499.31 L706.54,499.44 L706.78,499.58 L707.03,499.71 L707.27,499.84 L707.51,499.98 L707.75,500.11 L707.99,500.24 L708.23,500.37 L708.47,500.50 L708.71,500.63 L708.95,500.76 L709.19,500.89 L709.42,501.02 L709.66,501.14 L709.90,501.27 L710.13,501.39 L710.37,501.52 L710.60,501.64 L710.84,501.77 L711.07,501.89 L711.30,502.01 L711.53,502.14 L711.76,502.26 L712.00,502.38 L712.23,502.50 L712.46,502.62 L712.68,502.74 L712.91,502.86 L713.14,502.98 L713.37,503.09 L713.60,503.21 L713.82,503.33 L714.05,503.44 L714.27,503.56 L714.50,503.67 L714.72,503.79 L714.95,503.90 L715.17,504.02 L715.39,504.13 L715.62,504.24 L715.84,504.35 L716.06,504.46 L716.28,504.58 L716.50,504.69 L716.72,504.80 L716.94,504.91 L717.16,505.01 L717.38,505.12 L717.60,505.23 L717.82,505.34 L718.03,505.44 L718.25,505.55 L718.46,505.66 L718.68,505.76 L718.90,505.87 L719.11,505.97 L719.32,506.08 L719.54,506.18 L719.75,506.28 L719.96,506.39 L720.18,506.49 L720.39,506.59 L720.60,506.69 L720.81,506.79 L721.02,506.89 L721.23,506.99 L721.44,507.09 L721.65,507.19 L721.86,507.29 L722.07,507.39 L722.28,507.49 L722.48,507.59 L722.69,507.68 L722.90,507.78 L723.10,507.87 L723.31,507.97 L723.51,508.07 L723.72,508.16 L723.92,508.26 L724.13,508.35 L724.33,508.44 L724.53,508.54 L724.74,508.63 L724.94,508.72 L725.14,508.81 L725.34,508.91 L725.54,509.00 L725.74,509.09 L725.94,509.18 L726.14,509.27 L726.34,509.36 L726.54,509.45 L726.74,509.54 L726.94,509.63 L727.14,509.72 L727.33,509.80 L727.53,509.89 L727.73,509.98 L727.92,510.07 L728.12,510.15 L728.31,510.24 L728.51,510.32 L728.70,510.41 L728.90,510.49 L729.09,510.58 L729.28,510.66 L729.48,510.75 L729.67,510.83 L729.86,510.91 L730.05,511.00 L730.25,511.08 L730.44,511.16 L730.63,511.24 L730.82,511.33 L731.01,511.41 L731.20,511.49 L731.39,511.57 L731.58,511.65 L731.77,511.73 L731.95,511.81 L732.14,511.89 L732.33,511.97 L732.52,512.05 L732.70,512.12 L732.89,512.20 L733.08,512.28 L733.26,512.36 L733.45,512.43 L733.63,512.51 L733.82,512.59 L734.00,512.66 L734.18,512.74 L734.37,512.82 L734.55,512.89 L734.73,512.97 L734.92,513.04 L735.10,513.12 L735.28,513.19 L735.46,513.26 L735.64,513.34 L735.82,513.41 L736.01,513.48 L736.19,513.56 L736.37,513.63 L736.55,513.70 L736.72,513.77 L736.90,513.84 L737.08,513.91 L737.26,513.99 L737.44,514.06 L737.62,514.13 L737.79,514.20 L737.97,514.27 L738.15,514.34 L738.32,514.40 L738.50,514.47 L738.68,514.54 L738.85,514.61 L739.03,514.68 L739.20,514.75 L739.37,514.81 L739.55,514.88 L739.72,514.95 L739.90,515.02 L740.07,515.08 L740.24,515.15 L740.42,515.22 L740.59,515.28 L740.76,515.35 L740.93,515.41 L741.10,515.48 L741.27,515.54 L741.44,515.61 L741.61,515.67 L741.79,515.74 L741.96,515.80 L742.12,515.86 L742.29,515.93 L742.46,515.99 L742.63,516.05 L742.80,516.11 L742.97,516.18 L743.14,516.24 L743.30,516.30 L743.47,516.36 L743.64,516.42 L743.81,516.49 L743.97,516.55 L744.14,516.61 L744.30,516.67 L744.47,516.73 L744.63,516.79 L744.80,516.85 L744.96,516.91 L745.13,516.97 L745.29,517.03 L745.46,517.09 L745.62,517.14 L745.78,517.20 L745.95,517.26 L746.11,517.32 L746.27,517.38 L746.43,517.43 L746.60,517.49 L746.76,517.55 L746.92,517.61 L747.08,517.66 L747.24,517.72 L747.40,517.78 L747.56,517.83 L747.72,517.89 L747.88,517.94 L748.04,518.00 L748.20,518.06 L748.36,518.11 L748.52,518.17 L748.68,518.22 L748.84,518.27 L749.00,518.33 L749.15,518.38 L749.31,518.44 L749.47,518.49 L749.63,518.54 L749.78,518.60 L749.94,518.65 L750.10,518.70 L750.25,518.76 L750.41,518.81 L750.56,518.86 L750.72,518.91 L750.87,518.97 L751.03,519.02 L751.18,519.07 L751.34,519.12 L751.49,519.17 L751.65,519.22 L751.80,519.27 L751.95,519.33 L752.11,519.38 L752.26,519.43 L752.41,519.48 L752.56,519.53 L752.72,519.58 L752.87,519.63 L753.02,519.68 L753.17,519.72 L753.32,519.77 L753.47,519.82 L753.62,519.87 L753.77,519.92 L753.92,519.97 L754.07,520.02 L754.22,520.06 L754.37,520.11 L754.52,520.16 L754.67,520.21 L754.82,520.26 L754.97,520.30 L755.12,520.35 L755.27,520.40 L755.42,520.44 L755.56,520.49 L755.71,520.54 L755.86,520.58 L756.01,520.63 L756.15,520.67 L756.30,520.72 L756.45,520.77 L756.59,520.81 L756.74,520.86 L756.88,520.90 L757.03,520.95 L757.17,520.99 L757.32,521.04 L757.46,521.08 L757.61,521.12 L757.75,521.17 L757.90,521.21 L758.04,521.26 L758.19,521.30 L758.33,521.34 L758.47,521.39 L758.62,521.43 L758.76,521.47 L758.90,521.52 L759.05,521.56 L759.19,521.60 L759.33,521.64 L759.47,521.69 L759.61,521.73 L759.76,521.77 L759.90,521.81 L760.04,521.86 L760.18,521.90 L760.32,521.94 L760.46,521.98 L760.60,522.02 L760.74,522.06 L760.88,522.10 L761.02,522.14 L761.16,522.18 L761.30,522.22 L761.44,522.27 L761.58,522.31 L761.72,522.35 L761.86,522.39 L761.99,522.43 L762.13,522.46 L762.27,522.50 L762.41,522.54 L762.55,522.58 L762.68,522.62 L762.82,522.66 L762.96,522.70 L763.09,522.74 L763.23,522.78 L763.37,522.82 L763.50,522.85 L763.64,522.89 L763.78,522.93 L763.91,522.97 L764.05,523.01 L764.18,523.04 L764.32,523.08 L764.45,523.12 L764.59,523.16 L764.72,523.19 L764.86,523.23 L764.99,523.27 L765.12,523.30 L765.26,523.34 L765.39,523.38 L765.53,523.41 L765.66,523.45 L765.79,523.49 L765.93,523.52 L766.06,523.56 L766.19,523.59 L766.32,523.63 L766.46,523.67 L766.59,523.70 L766.72,523.74 L766.85,523.77 L766.98,523.81 L767.11,523.84 L767.25,523.88 L767.38,523.91 L767.51,523.95 L767.64,523.98 L767.77,524.02 L767.90,524.05 L768.03,524.08 L768.16,524.12 L768.29,524.15 L768.42,524.19 L768.55,524.22 L768.68,524.25 L768.81,524.29 L768.93,524.32 L769.06,524.35 L769.19,524.39 L769.32,524.42 L769.45,524.45 L769.58,524.49 L769.70,524.52 L769.83,524.55 L769.96,524.58 L770.09,524.62 L770.21,524.65 L770.34,524.68 L770.47,524.71 L770.60,524.74 L770.72,524.78 L770.85,524.81 L770.97,524.84 L771.10,524.87 L771.23,524.90 L771.35,524.93 L771.48,524.97 L771.60,525.00 L771.73,525.03 L771.85,525.06 L771.98,525.09 L772.10,525.12 L772.23,525.15 L772.35,525.18 L772.48,525.21 L772.60,525.24 L772.73,525.27 L772.85,525.30 L772.97,525.33 L773.10,525.36 L773.22,525.39 L773.34,525.42 L773.47,525.45 L773.59,525.48 L773.71,525.51 L773.83,525.54 L773.96,525.57 L774.08,525.60 L774.20,525.63 L774.32,525.66 L774.45,525.69 L774.57,525.71 L774.69,525.74 L774.81,525.77 L774.93,525.80 L775.05,525.83 L775.17,525.86 L775.29,525.89 L775.41,525.91 L775.54,525.94 L775.66,525.97 L775.78,526.00 L775.90,526.03 L776.02,526.05 L776.14,526.08 L776.25,526.11 L776.37,526.14 L776.49,526.16 L776.61,526.19 L776.73,526.22 L776.85,526.25 L776.97,526.27 L777.09,526.30 L777.21,526.33 L777.32,526.35 L777.44,526.38 L777.56,526.41 L777.68,526.43 L777.80,526.46 L777.91,526.49 L778.03,526.51 L778.15,526.54 L778.27,526.56 L778.38,526.59 L778.50,526.62 L778.62,526.64 L778.73,526.67 L778.85,526.69 L778.97,526.72 L779.08,526.74 L779.20,526.77 L779.31,526.79 L779.43,526.82 L779.55,526.84 L779.66,526.87 L779.78,526.89 L779.89,526.92 L780.01,526.94 L780.12,526.97 L780.24,526.99 L780.35,527.02 L780.47,527.04 L780.58,527.07 L780.70,527.09 L780.81,527.12 L780.92,527.14 L781.04,527.16 L781.15,527.19 L781.26,527.21 L781.38,527.24 L781.49,527.26 L781.61,527.28 L781.72,527.31 L781.83,527.33 L781.94,527.36 L782.06,527.38 L782.17,527.40 L782.28,527.43 L782.39,527.45 L782.51,527.47 L782.62,527.49 L782.73,527.52 L782.84,527.54 L782.95,527.56 L783.07,527.59 L783.18,527.61 L783.29,527.63 L783.40,527.65 L783.51,527.68 L783.62,527.70 L783.73,527.72 L783.84,527.74 L783.95,527.77 L784.06,527.79 L784.17,527.81 L784.28,527.83 L784.39,527.85 L784.50,527.88 L784.61,527.90 L784.72,527.92 L784.83,527.94 L784.94,527.96 L785.05,527.98 L785.16,528.01 L785.27,528.03 L785.38,528.05 L785.49,528.07 L785.60,528.09 L785.71,528.11 L785.81,528.13 L785.92,528.15 L786.03,528.18 L786.14,528.20 L786.25,528.22 L786.35,528.24 L786.46,528.26 L786.57,528.28 L786.68,528.30 L786.78,528.32 L786.89,528.34 L787.00,528.36 L787.11,528.38 L787.21,528.40 L787.32,528.42 L787.43,528.44 L787.53,528.46 L787.64,528.48 L787.75,528.50 L787.85,528.52 L787.96,528.54 L788.06,528.56 L788.17,528.58 L788.28,528.60 L788.38,528.62 L788.49,528.64 L788.59,528.66 L788.70,528.68 L788.80,528.70 L788.91,528.72 L789.01,528.74 L789.12,528.76 L789.22,528.77 L789.33,528.79 L789.43,528.81 L789.54,528.83 L789.64,528.85 L789.75,528.87 L789.85,528.89 L789.95,528.91 L790.06,528.92 L790.16,528.94 L790.26,528.96 L790.37,528.98 L790.47,529.00 L790.57,529.02 L790.68,529.03 L790.78,529.05 L790.88,529.07 L790.99,529.09 L791.09,529.11 L791.19,529.13 L791.29,529.14 L791.40,529.16 L791.50,529.18 L791.60,529.20 L791.70,529.21 L791.81,529.23 L791.91,529.25 L792.01,529.27 L792.11,529.28 L792.21,529.30 L792.31,529.32 L792.42,529.34 L792.52,529.35 L792.62,529.37 L792.72,529.39 L792.82,529.41 L792.92,529.42 L793.02,529.44 L793.12,529.46 L793.22,529.47 L793.32,529.49 L793.42,529.51 L793.52,529.52 L793.62,529.54 L793.72,529.56 L793.82,529.57 L793.92,529.59 L794.02,529.61 L794.12,529.62 L794.22,529.64 L794.32,529.66 L794.42,529.67 L794.52,529.69 L794.62,529.70 L794.72,529.72 L794.82,529.74 L794.92,529.75 L795.02,529.77 L795.11,529.78 L795.21,529.80 L795.31,529.82 L795.41,529.83 L795.51,529.85 L795.61,529.86 L795.70,529.88 L795.80,529.89 L795.90,529.91" stroke="#ff00ff" stroke-width="2.0" stroke-dasharray="11.7 11.95" stroke-dashoffset="1.0"/>
<path d="M120.40,480.50 L188.18,439.00 L227.83,403.82 L255.96,376.88 L277.78,353.29 L295.61,332.21 L310.69,313.81 L323.75,297.89 L335.26,284.14 L345.57,272.19 L354.89,261.77 L363.40,252.66 L371.22,244.75 L378.47,237.99 L385.22,232.28 L391.53,227.55 L397.46,223.71 L403.05,220.66 L408.33,218.28 L413.35,216.47 L418.12,215.17 L422.67,214.30 L427.02,213.82 L431.18,213.67 L435.17,213.83 L439.00,214.25 L442.70,214.90 L446.25,215.76 L449.68,216.81 L453.00,218.03 L456.20,219.40 L459.31,220.91 L462.32,222.54 L465.24,224.28 L468.07,226.12 L470.83,228.05 L473.51,230.07 L476.11,232.15 L478.65,234.31 L481.13,236.52 L483.55,238.80 L485.90,241.12 L488.20,243.49 L490.45,245.90 L492.65,248.34 L494.80,250.82 L496.90,253.32 L498.96,255.83 L500.98,258.36 L502.95,260.89 L504.89,263.43 L506.79,265.96 L508.65,268.49 L510.48,271.01 L512.27,273.52 L514.03,276.02 L515.76,278.50 L517.47,280.96 L519.14,283.41 L520.78,285.83 L522.40,288.24 L523.99,290.62 L525.55,292.97 L527.09,295.30 L528.61,297.61 L530.10,299.89 L531.57,302.14 L533.02,304.36 L534.45,306.56 L535.85,308.72 L537.24,310.86 L538.61,312.97 L539.96,315.05 L541.29,317.11 L542.60,319.13 L543.90,321.12 L545.17,323.08 L546.44,325.02 L547.68,326.92 L548.91,328.80 L550.13,330.65 L551.33,332.46 L552.51,334.25 L553.68,336.01 L554.84,337.74 L555.98,339.44 L557.12,341.12 L558.23,342.76 L559.34,344.38 L560.43,345.97 L561.51,347.54 L562.58,349.07 L563.64,350.58 L564.68,352.06 L565.72,353.52 L566.74,354.95 L567.75,356.35 L568.76,357.73 L569.75,359.08 L570.73,360.41" stroke="#000" stroke-width="4.3"/>
<path d="M120.40,510.20 L188.18,489.00 L227.83,465.11 L255.96,446.90 L277.78,431.20 L295.61,416.95 L310.69,403.84 L323.75,391.87 L335.26,380.95 L345.57,370.98 L354.89,361.86 L363.40,353.49 L371.22,345.83 L378.47,338.82 L385.22,332.43 L391.53,326.59 L397.46,321.28 L403.05,316.44 L408.33,312.05 L413.35,308.06 L418.12,304.45 L422.67,301.18 L427.02,298.23 L431.18,295.58 L435.17,293.21 L439.00,291.09 L442.70,289.21 L446.25,287.56 L449.68,286.12 L453.00,284.88 L456.20,283.83 L459.31,282.94 L462.32,282.23 L465.24,281.66 L468.07,281.25 L470.83,280.97 L473.51,280.82 L476.11,280.79 L478.65,280.88 L481.13,281.08 L483.55,281.38 L485.90,281.78 L488.20,282.27 L490.45,282.86 L492.65,283.52 L494.80,284.27 L496.90,285.10 L498.96,285.99 L500.98,286.95 L502.95,287.97 L504.89,289.05 L506.79,290.17 L508.65,291.34 L510.48,292.56 L512.27,293.81 L514.03,295.09 L515.76,296.41 L517.47,297.76 L519.14,299.14 L520.78,300.54 L522.40,301.96 L523.99,303.40 L525.55,304.86 L527.09,306.34 L528.61,307.83 L530.10,309.33 L531.57,310.85 L533.02,312.38 L534.45,313.92 L535.85,315.46 L537.24,317.01 L538.61,318.57 L539.96,320.14 L541.29,321.70 L542.60,323.28 L543.90,324.85 L545.17,326.43 L546.44,328.01 L547.68,329.59 L548.91,331.17 L550.13,332.75 L551.33,334.33 L552.51,335.91 L553.68,337.48 L554.84,339.05 L555.98,340.61 L557.12,342.17 L558.23,343.72 L559.34,345.27 L560.43,346.80 L561.51,348.33 L562.58,349.85 L563.64,351.36 L564.68,352.87 L565.72,354.36 L566.74,355.84 L567.75,357.31 L568.76,358.77 L569.75,360.22 L570.73,361.65 L571.71,363.08 L572.67,364.49 L573.62,365.89 L574.57,367.28 L575.50,368.65 L576.43,370.01 L577.35,371.36 L578.26,372.70 L579.16,374.02 L580.05,375.33 L580.94,376.63 L581.82,377.91 L582.68,379.18 L583.55,380.44 L584.40,381.68 L585.25,382.91 L586.09,384.12 L586.92,385.33 L587.74,386.51 L588.56,387.69 L589.37,388.85 L590.18,389.99 L590.98,391.13 L591.77,392.25 L592.55,393.36 L593.33,394.45 L594.11,395.54 L594.87,396.61 L595.63,397.67 L596.39,398.72 L597.14,399.75 L597.88,400.78 L598.62,401.79 L599.35,402.79 L600.08,403.78 L600.80,404.76 L601.52,405.73 L602.23,406.69 L602.94,407.64 L603.64,408.58 L604.33,409.51 L605.02,410.43 L605.71,411.33 L606.39,412.23 L607.07,413.12 L607.74,414.00 L608.41,414.87 L609.07,415.74 L609.73,416.59 L610.38,417.43 L611.03,418.27 L611.68,419.09 L612.32,419.91 L612.96,420.72 L613.59,421.52 L614.22,422.32 L614.84,423.10 L615.46,423.88 L616.08,424.65 L616.69,425.41 L617.30,426.16 L617.91,426.91 L618.51,427.64 L619.11,428.38 L619.70,429.10 L620.29,429.81 L620.88,430.52 L621.47,431.23 L622.05,431.92 L622.62,432.61 L623.20,433.29 L623.77,433.96 L624.33,434.63 L624.90,435.29 L625.46,435.95 L626.01,436.60 L626.57,437.24 L627.12,437.87 L627.67,438.50 L628.21,439.13 L628.75,439.74 L629.29,440.36 L629.83,440.96 L630.36,441.56 L630.89,442.15 L631.42,442.74 L631.94,443.33 L632.46,443.90 L632.98,444.47 L633.50,445.04 L634.01,445.60 L634.52,446.15 L635.03,446.70 L635.54,447.25 L636.04,447.79 L636.54,448.32 L637.04,448.85 L637.53,449.37 L638.03,449.89 L638.52,450.41 L639.00,450.92 L639.49,451.42 L639.97,451.92 L640.45,452.41 L640.93,452.90 L641.41,453.39 L641.88,453.87 L642.35,454.35 L642.82,454.82 L643.29,455.29 L643.75,455.75 L644.21,456.21 L644.67,456.66 L645.13,457.11 L645.59,457.56 L646.04,458.00 L646.49,458.44 L646.94,458.87 L647.39,459.30 L647.84,459.73 L648.28,460.15 L648.72,460.57 L649.16,460.98 L649.60,461.39 L650.03,461.80 L650.47,462.20 L650.90,462.60 L651.33,462.99 L651.76,463.38 L652.18,463.77 L652.61,464.16 L653.03,464.54 L653.45,464.92 L653.87,465.29 L654.29,465.66 L654.70,466.03 L655.11,466.39 L655.53,466.76 L655.94,467.12 L656.34,467.47 L656.75,467.82 L657.16,468.17 L657.56,468.52 L657.96,468.86 L658.36,469.20 L658.76,469.54 L659.16,469.87 L659.55,470.21 L659.94,470.54 L660.34,470.86 L660.73,471.19 L661.12,471.51 L661.50,471.83 L661.89,472.14 L662.27,472.45 L662.66,472.77 L663.04,473.07 L663.42,473.38 L663.79,473.68 L664.17,473.98 L664.55,474.28 L664.92,474.58 L665.29,474.87 L665.66,475.16 L666.03,475.45 L666.40,475.74 L666.77,476.02 L667.14,476.31 L667.50,476.59 L667.86,476.87 L668.22,477.14 L668.58,477.41 L668.94,477.69 L669.30,477.96 L669.66,478.22 L670.01,478.49 L670.37,478.75 L670.72,479.01 L671.07,479.27 L671.42,479.53 L671.77,479.79 L672.11,480.04 L672.46,480.29 L672.81,480.54 L673.15,480.79 L673.49,481.04 L673.83,481.28 L674.17,481.53 L674.51,481.77 L674.85,482.01 L675.19,482.25 L675.52,482.48 L675.86,482.72 L676.19,482.95 L676.52,483.18 L676.85,483.41 L677.18,483.64 L677.51,483.86 L677.84,484.09 L678.17,484.31 L678.49,484.53 L678.81,484.75 L679.14,484.97 L679.46,485.19 L679.78,485.41 L680.10,485.62 L680.42,485.83 L680.74,486.04 L681.06,486.25 L681.37,486.46 L681.69,486.67 L682.00,486.87 L682.31,487.08 L682.63,487.28 L682.94,487.48 L683.25,487.68 L683.56,487.88 L683.86,488.08 L684.17,488.28 L684.48,488.47 L684.78,488.67 L685.09,488.86 L685.39,489.05 L685.69,489.24 L685.99,489.43 L686.29,489.62 L686.59,489.80 L686.89,489.99 L687.19,490.17 L687.49,490.36 L687.78,490.54 L688.08,490.72 L688.37,490.90 L688.66,491.08 L688.96,491.25 L689.25,491.43 L689.54,491.61 L689.83,491.78 L690.12,491.95 L690.40,492.13 L690.69,492.30 L690.98,492.47 L691.26,492.64 L691.55,492.80 L691.83,492.97 L692.12,493.14 L692.40,493.30 L692.68,493.47 L692.96,493.63 L693.24,493.79 L693.52,493.95 L693.80,494.11 L694.07,494.27 L694.35,494.43 L694.63,494.59 L694.90,494.75 L695.18,494.90 L695.45,495.06 L695.72,495.21 L695.99,495.36 L696.27,495.52 L696.54,495.67 L696.81,495.82 L697.07,495.97 L697.34,496.12 L697.61,496.26 L697.88,496.41 L698.14,496.56 L698.41,496.70 L698.67,496.85 L698.94,496.99 L699.20,497.14 L699.46,497.28 L699.72,497.42 L699.99,497.56 L700.25,497.70 L700.51,497.84 L700.77,497.98 L701.02,498.12 L701.28,498.25 L701.54,498.39 L701.79,498.53 L702.05,498.66 L702.31,498.80 L702.56,498.93 L702.81,499.06 L703.07,499.20 L703.32,499.33 L703.57,499.46 L703.82,499.59 L704.07,499.72 L704.32,499.85 L704.57,499.98 L704.82,500.10 L705.07,500.23 L705.31,500.36 L705.56,500.48 L705.81,500.61 L706.05,500.73 L706.30,500.86 L706.54,500.98 L706.78,501.10 L707.03,501.22 L707.27,501.35 L707.51,501.47 L707.75,501.59 L707.99,501.71 L708.23,501.83 L708.47,501.94 L708.71,502.06 L708.95,502.18 L709.19,502.30 L709.42,502.41 L709.66,502.53 L709.90,502.64 L710.13,502.76 L710.37,502.87 L710.60,502.99 L710.84,503.10 L711.07,503.21 L711.30,503.33 L711.53,503.44 L711.76,503.55 L712.00,503.66 L712.23,503.77 L712.46,503.88 L712.68,503.99 L712.91,504.10 L713.14,504.21 L713.37,504.31 L713.60,504.42 L713.82,504.53 L714.05,504.63 L714.27,504.74 L714.50,504.84 L714.72,504.95 L714.95,505.05 L715.17,505.16 L715.39,505.26 L715.62,505.36 L715.84,505.47 L716.06,505.57 L716.28,505.67 L716.50,505.77 L716.72,505.87 L716.94,505.97 L717.16,506.07 L717.38,506.17 L717.60,506.27 L717.82,506.37 L718.03,506.47 L718.25,506.57 L718.46,506.67 L718.68,506.76 L718.90,506.86 L719.11,506.96 L719.32,507.05 L719.54,507.15 L719.75,507.24 L719.96,507.34 L720.18,507.43 L720.39,507.53 L720.60,507.62 L720.81,507.71 L721.02,507.81 L721.23,507.90 L721.44,507.99 L721.65,508.08 L721.86,508.18 L722.07,508.27 L722.28,508.36 L722.48,508.45 L722.69,508.54 L722.90,508.63 L723.10,508.72 L723.31,508.81 L723.51,508.90 L723.72,508.99 L723.92,509.07 L724.13,509.16 L724.33,509.25 L724.53,509.34 L724.74,509.42 L724.94,509.51 L725.14,509.60 L725.34,509.68 L725.54,509.77 L725.74,509.85 L725.94,509.94 L726.14,510.02 L726.34,510.11 L726.54,510.19 L726.74,510.28 L726.94,510.36 L727.14,510.44 L727.33,510.53 L727.53,510.61 L727.73,510.69 L727.92,510.77 L728.12,510.86 L728.31,510.94 L728.51,511.02 L728.70,511.10 L728.90,511.18 L729.09,511.26 L729.28,511.34 L729.48,511.42 L729.67,511.50 L729.86,511.58 L730.05,511.66 L730.25,511.74 L730.44,511.81 L730.63,511.89 L730.82,511.97 L731.01,512.05 L731.20,512.12 L731.39,512.20 L731.58,512.28 L731.77,512.36 L731.95,512.43 L732.14,512.51 L732.33,512.58 L732.52,512.66 L732.70,512.73 L732.89,512.81 L733.08,512.88 L733.26,512.96 L733.45,513.03 L733.63,513.11 L733.82,513.18 L734.00,513.25 L734.18,513.33 L734.37,513.40 L734.55,513.47 L734.73,513.54 L734.92,513.62 L735.10,513.69 L735.28,513.76 L735.46,513.83 L735.64,513.90 L735.82,513.97 L736.01,514.04 L736.19,514.11 L736.37,514.18 L736.55,514.25 L736.72,514.32 L736.90,514.39 L737.08,514.46 L737.26,514.53 L737.44,514.60 L737.62,514.67 L737.79,514.74 L737.97,514.80 L738.15,514.87 L738.32,514.94 L738.50,515.01 L738.68,515.07 L738.85,515.14 L739.03,515.21 L739.20,515.27 L739.37,515.34 L739.55,515.41 L739.72,515.47 L739.90,515.54 L740.07,515.60 L740.24,515.67 L740.42,515.73 L740.59,515.80 L740.76,515.86 L740.93,515.93 L741.10,515.99 L741.27,516.06 L741.44,516.12 L741.61,516.18 L741.79,516.25 L741.96,516.31 L742.12,516.37 L742.29,516.43 L742.46,516.50 L742.63,516.56 L742.80,516.62 L742.97,516.68 L743.14,516.74 L743.30,516.81 L743.47,516.87 L743.64,516.93 L743.81,516.99 L743.97,517.05 L744.14,517.11 L744.30,517.17 L744.47,517.23 L744.63,517.29 L744.80,517.35 L744.96,517.41 L745.13,517.47 L745.29,517.53 L745.46,517.59 L745.62,517.64 L745.78,517.70 L745.95,517.76 L746.11,517.82 L746.27,517.88 L746.43,517.93 L746.60,517.99 L746.76,518.05 L746.92,518.11 L747.08,518.16 L747.24,518.22 L747.40,518.28 L747.56,518.33 L747.72,518.39 L747.88,518.45 L748.04,518.50 L748.20,518.56 L748.36,518.61 L748.52,518.67 L748.68,518.72 L748.84,518.78 L749.00,518.83 L749.15,518.89 L749.31,518.94 L749.47,519.00 L749.63,519.05 L749.78,519.10 L749.94,519.16 L750.10,519.21 L750.25,519.26 L750.41,519.32 L750.56,519.37 L750.72,519.42 L750.87,519.48 L751.03,519.53 L751.18,519.58 L751.34,519.63 L751.49,519.69 L751.65,519.74 L751.80,519.79 L751.95,519.84 L752.11,519.89 L752.26,519.94 L752.41,520.00 L752.56,520.05 L752.72,520.10 L752.87,520.15 L753.02,520.20 L753.17,520.25 L753.32,520.30 L753.47,520.35 L753.62,520.40 L753.77,520.45 L753.92,520.50 L754.07,520.55 L754.22,520.60 L754.37,520.65 L754.52,520.69 L754.67,520.74 L754.82,520.79 L754.97,520.84 L755.12,520.89 L755.27,520.94 L755.42,520.99 L755.56,521.03 L755.71,521.08 L755.86,521.13 L756.01,521.18 L756.15,521.22 L756.30,521.27 L756.45,521.32 L756.59,521.36 L756.74,521.41 L756.88,521.46 L757.03,521.50 L757.17,521.55 L757.32,521.60 L757.46,521.64 L757.61,521.69 L757.75,521.73 L757.90,521.78 L758.04,521.82 L758.19,521.87 L758.33,521.91 L758.47,521.96 L758.62,522.00 L758.76,522.05 L758.90,522.09 L759.05,522.14 L759.19,522.18 L759.33,522.23 L759.47,522.27 L759.61,522.32 L759.76,522.36 L759.90,522.40 L760.04,522.45 L760.18,522.49 L760.32,522.53 L760.46,522.58 L760.60,522.62 L760.74,522.66 L760.88,522.70 L761.02,522.75 L761.16,522.79 L761.30,522.83 L761.44,522.87 L761.58,522.92 L761.72,522.96 L761.86,523.00 L761.99,523.04 L762.13,523.08 L762.27,523.12 L762.41,523.17 L762.55,523.21 L762.68,523.25 L762.82,523.29 L762.96,523.33 L763.09,523.37 L763.23,523.41 L763.37,523.45 L763.50,523.49 L763.64,523.53 L763.78,523.57 L763.91,523.61 L764.05,523.65 L764.18,523.69 L764.32,523.73 L764.45,523.77 L764.59,523.81 L764.72,523.85 L764.86,523.89 L764.99,523.93 L765.12,523.97 L765.26,524.01 L765.39,524.04 L765.53,524.08 L765.66,524.12 L765.79,524.16 L765.93,524.20 L766.06,524.24 L766.19,524.27 L766.32,524.31 L766.46,524.35 L766.59,524.39 L766.72,524.42 L766.85,524.46 L766.98,524.50 L767.11,524.54 L767.25,524.57 L767.38,524.61 L767.51,524.65 L767.64,524.68 L767.77,524.72 L767.90,524.76 L768.03,524.79 L768.16,524.83 L768.29,524.87 L768.42,524.90 L768.55,524.94 L768.68,524.97 L768.81,525.01 L768.93,525.05 L769.06,525.08 L769.19,525.12 L769.32,525.15 L769.45,525.19 L769.58,525.22 L769.70,525.26 L769.83,525.29 L769.96,525.33 L770.09,525.36 L770.21,525.40 L770.34,525.43 L770.47,525.46 L770.60,525.50 L770.72,525.53 L770.85,525.57 L770.97,525.60 L771.10,525.64 L771.23,525.67 L771.35,525.70 L771.48,525.74 L771.60,525.77 L771.73,525.80 L771.85,525.84 L771.98,525.87 L772.10,525.90 L772.23,525.94 L772.35,525.97 L772.48,526.00 L772.60,526.03 L772.73,526.07 L772.85,526.10 L772.97,526.13 L773.10,526.16 L773.22,526.20 L773.34,526.23 L773.47,526.26 L773.59,526.29 L773.71,526.32 L773.83,526.36 L773.96,526.39 L774.08,526.42 L774.20,526.45 L774.32,526.48 L774.45,526.51 L774.57,526.55 L774.69,526.58 L774.81,526.61 L774.93,526.64 L775.05,526.67 L775.17,526.70 L775.29,526.73 L775.41,526.76 L775.54,526.79 L775.66,526.82 L775.78,526.85 L775.90,526.88 L776.02,526.91 L776.14,526.94 L776.25,526.97 L776.37,527.00 L776.49,527.03 L776.61,527.06 L776.73,527.09 L776.85,527.12 L776.97,527.15 L777.09,527.18 L777.21,527.21 L777.32,527.24 L777.44,527.27 L777.56,527.30 L777.68,527.33 L777.80,527.35 L777.91,527.38 L778.03,527.41 L778.15,527.44 L778.27,527.47 L778.38,527.50 L778.50,527.53 L778.62,527.55 L778.73,527.58 L778.85,527.61 L778.97,527.64 L779.08,527.67 L779.20,527.69 L779.31,527.72 L779.43,527.75 L779.55,527.78 L779.66,527.80 L779.78,527.83 L779.89,527.86 L780.01,527.89 L780.12,527.91 L780.24,527.94 L780.35,527.97 L780.47,527.99 L780.58,528.02 L780.70,528.05 L780.81,528.07 L780.92,528.10 L781.04,528.13 L781.15,528.15 L781.26,528.18 L781.38,528.21 L781.49,528.23 L781.61,528.26 L781.72,528.29 L781.83,528.31 L781.94,528.34 L782.06,528.36 L782.17,528.39 L782.28,528.41 L782.39,528.44 L782.51,528.47 L782.62,528.49 L782.73,528.52 L782.84,528.54 L782.95,528.57 L783.07,528.59 L783.18,528.62 L783.29,528.64 L783.40,528.67 L783.51,528.69 L783.62,528.72 L783.73,528.74 L783.84,528.77 L783.95,528.79 L784.06,528.82 L784.17,528.84 L784.28,528.86 L784.39,528.89 L784.50,528.91 L784.61,528.94 L784.72,528.96 L784.83,528.99 L784.94,529.01 L785.05,529.03 L785.16,529.06 L785.27,529.08 L785.38,529.10 L785.49,529.13 L785.60,529.15 L785.71,529.17 L785.81,529.20 L785.92,529.22 L786.03,529.24 L786.14,529.27 L786.25,529.29 L786.35,529.31 L786.46,529.34 L786.57,529.36 L786.68,529.38 L786.78,529.41 L786.89,529.43 L787.00,529.45 L787.11,529.47 L787.21,529.50 L787.32,529.52 L787.43,529.54 L787.53,529.56 L787.64,529.59 L787.75,529.61 L787.85,529.63 L787.96,529.65 L788.06,529.67 L788.17,529.70 L788.28,529.72 L788.38,529.74 L788.49,529.76 L788.59,529.78 L788.70,529.80 L788.80,529.83 L788.91,529.85 L789.01,529.87 L789.12,529.89 L789.22,529.91 L789.33,529.93 L789.43,529.95 L789.54,529.97 L789.64,530.00 L789.75,530.02 L789.85,530.04 L789.95,530.06 L790.06,530.08 L790.16,530.10 L790.26,530.12 L790.37,530.14 L790.47,530.16 L790.57,530.18 L790.68,530.20 L790.78,530.22 L790.88,530.24 L790.99,530.26 L791.09,530.28 L791.19,530.30 L791.29,530.32 L791.40,530.34 L791.50,530.36 L791.60,530.38 L791.70,530.40 L791.81,530.42 L791.91,530.44 L792.01,530.46 L792.11,530.48 L792.21,530.50 L792.31,530.52 L792.42,530.54 L792.52,530.56 L792.62,530.58 L792.72,530.60 L792.82,530.62 L792.92,530.64 L793.02,530.66 L793.12,530.68 L793.22,530.69 L793.32,530.71 L793.42,530.73 L793.52,530.75 L793.62,530.77 L793.72,530.79 L793.82,530.81 L793.92,530.83 L794.02,530.84 L794.12,530.86 L794.22,530.88 L794.32,530.90 L794.42,530.92 L794.52,530.94 L794.62,530.95 L794.72,530.97 L794.82,530.99 L794.92,531.01 L795.02,531.03 L795.11,531.04 L795.21,531.06 L795.31,531.08 L795.41,531.10 L795.51,531.11 L795.61,531.13 L795.70,531.15 L795.80,531.17 L795.90,531.18" stroke="#000" stroke-width="4.3" stroke-dasharray="11.7 11.8" stroke-dashoffset="1.8"/>
</g>
<rect x="120.4" y="18.6" width="675.5" height="532.6999999999999" fill="none" stroke="#000" stroke-width="1.45"/>
<path d="M188.18,551.3 v-3.5 M188.18,18.6 v3.5 M227.83,551.3 v-3.5 M227.83,18.6 v3.5 M255.96,551.3 v-3.5 M255.96,18.6 v3.5 M277.78,551.3 v-3.5 M277.78,18.6 v3.5 M295.61,551.3 v-3.5 M295.61,18.6 v3.5 M310.69,551.3 v-3.5 M310.69,18.6 v3.5 M323.75,551.3 v-3.5 M323.75,18.6 v3.5 M335.26,551.3 v-3.5 M335.26,18.6 v3.5 M345.57,551.3 v-6.8 M345.57,18.6 v6.8 M413.35,551.3 v-3.5 M413.35,18.6 v3.5 M453.00,551.3 v-3.5 M453.00,18.6 v3.5 M481.13,551.3 v-3.5 M481.13,18.6 v3.5 M502.95,551.3 v-3.5 M502.95,18.6 v3.5 M520.78,551.3 v-3.5 M520.78,18.6 v3.5 M535.85,551.3 v-3.5 M535.85,18.6 v3.5 M548.91,551.3 v-3.5 M548.91,18.6 v3.5 M560.43,551.3 v-3.5 M560.43,18.6 v3.5 M570.73,551.3 v-6.8 M570.73,18.6 v6.8 M638.52,551.3 v-3.5 M638.52,18.6 v3.5 M678.17,551.3 v-3.5 M678.17,18.6 v3.5 M706.30,551.3 v-3.5 M706.30,18.6 v3.5 M728.12,551.3 v-3.5 M728.12,18.6 v3.5 M745.95,551.3 v-3.5 M745.95,18.6 v3.5 M761.02,551.3 v-3.5 M761.02,18.6 v3.5 M774.08,551.3 v-3.5 M774.08,18.6 v3.5 M785.60,551.3 v-3.5 M785.60,18.6 v3.5 M120.4,444.76 h6.8 M795.9,444.76 h-6.8 M120.4,338.22 h6.8 M795.9,338.22 h-6.8 M120.4,231.68 h6.8 M795.9,231.68 h-6.8 M120.4,125.14 h6.8 M795.9,125.14 h-6.8" stroke="#000" stroke-width="1.2" fill="none"/>
<rect x="392.8" y="32.4" width="395.0" height="217.3" fill="#fff" fill-opacity="0.82" stroke="#000" stroke-opacity="0.85" stroke-width="1.9"/>
<g fill="none" stroke-width="4.2">
<path d="M416.4,55.6 H473.9" stroke="#000"/>
<path d="M416.4,98.8 H473.9" stroke="#000" stroke-dasharray="11.7 11.9"/>
<path d="M416.3,142.4 H474.5" stroke="#00f" stroke-dasharray="1.5 7.6 11.7 7.6"/>
<path d="M416.4,185.5 H473.9" stroke="#00f"/>
<path d="M411.2,228.9 H469.0" stroke="#00f" stroke-dasharray="11.8 11.8"/>
</g>
<text transform="translate(491.5,62.4)" font-size="27.2">reference, with reservoir</text>
<text transform="translate(495.2,107.3)" font-size="27.2">reference, isolated</text>
<g transform="translate(493,150.8)"><path d="M13.7,-14.3 C12.6,-15.5 10.6,-16.0 8.8,-16.0 C6.4,-16.0 4.1,-15.0 3.1,-13.6 C2.1,-12.2 2.4,-10.6 3.5,-9.9 C4.4,-9.3 5.6,-9.25 6.6,-9.25 C4.5,-9.2 2.6,-8.2 1.4,-6.8 C0.3,-5.4 0.1,-3.5 1.1,-2.2 C2.1,-0.9 3.9,-0.35 5.9,-0.35 C8.6,-0.35 11.0,-1.8 12.3,-3.8" fill="none" stroke="#000" stroke-width="1.35" stroke-linecap="round"/><path d="M5.4,-9.3 H9.6" fill="none" stroke="#000" stroke-width="1.5" stroke-linecap="round"/></g>
<path d="M520.1,138.1 h23.3 M520.1,144.8 h23.3" stroke="#000" stroke-width="1.3" fill="none"/>
<text transform="translate(554.5,150.8)" font-size="35.5" class="ser">3.16</text>
<g transform="translate(652,150.8)" fill="#000"><path d="M0.1,-9.9 C1.5,-12.9 4.0,-16.0 7.2,-16.0 C10.6,-16.0 12.4,-12.6 13.1,-8.2 C13.4,-6.5 13.6,-5 13.7,-3.8 L12.5,-3.4 C12.3,-5.2 12.0,-7 11.6,-8.6 C10.9,-11.6 9.6,-13.3 7.0,-13.3 C4.6,-13.3 2.6,-11.6 1.0,-9.1 Z"/><path d="M18.1,-15.8 L19.0,-15.3 C17,-11.5 15,-7.5 13.8,-3.6 C12.8,-0.4 11.8,3.2 11.2,6.5 L9.5,6.1 C10.3,2.6 11.4,-1.0 12.6,-4.2 C14,-8 16,-12 18.1,-15.8 Z"/></g>
<path d="M683,138.1 h23.3 M683,144.8 h23.3" stroke="#000" stroke-width="1.3" fill="none"/>
<text transform="translate(718.5,150.8)" font-size="35.5" class="ser">0.1</text>
<g transform="translate(493,192.6)"><path d="M13.7,-14.3 C12.6,-15.5 10.6,-16.0 8.8,-16.0 C6.4,-16.0 4.1,-15.0 3.1,-13.6 C2.1,-12.2 2.4,-10.6 3.5,-9.9 C4.4,-9.3 5.6,-9.25 6.6,-9.25 C4.5,-9.2 2.6,-8.2 1.4,-6.8 C0.3,-5.4 0.1,-3.5 1.1,-2.2 C2.1,-0.9 3.9,-0.35 5.9,-0.35 C8.6,-0.35 11.0,-1.8 12.3,-3.8" fill="none" stroke="#000" stroke-width="1.35" stroke-linecap="round"/><path d="M5.4,-9.3 H9.6" fill="none" stroke="#000" stroke-width="1.5" stroke-linecap="round"/></g>
<path d="M520.1,179.9 h23.3 M520.1,186.6 h23.3" stroke="#000" stroke-width="1.3" fill="none"/>
<text transform="translate(554.5,192.6)" font-size="35.5" class="ser">3.16</text>
<g transform="translate(652,192.6)" fill="#000"><path d="M0.1,-9.9 C1.5,-12.9 4.0,-16.0 7.2,-16.0 C10.6,-16.0 12.4,-12.6 13.1,-8.2 C13.4,-6.5 13.6,-5 13.7,-3.8 L12.5,-3.4 C12.3,-5.2 12.0,-7 11.6,-8.6 C10.9,-11.6 9.6,-13.3 7.0,-13.3 C4.6,-13.3 2.6,-11.6 1.0,-9.1 Z"/><path d="M18.1,-15.8 L19.0,-15.3 C17,-11.5 15,-7.5 13.8,-3.6 C12.8,-0.4 11.8,3.2 11.2,6.5 L9.5,6.1 C10.3,2.6 11.4,-1.0 12.6,-4.2 C14,-8 16,-12 18.1,-15.8 Z"/></g>
<path d="M683,179.9 h23.3 M683,186.6 h23.3" stroke="#000" stroke-width="1.3" fill="none"/>
<text transform="translate(718.5,192.6)" font-size="35.5" class="ser">1.0</text>
<g transform="translate(493,235.0)"><path d="M13.7,-14.3 C12.6,-15.5 10.6,-16.0 8.8,-16.0 C6.4,-16.0 4.1,-15.0 3.1,-13.6 C2.1,-12.2 2.4,-10.6 3.5,-9.9 C4.4,-9.3 5.6,-9.25 6.6,-9.25 C4.5,-9.2 2.6,-8.2 1.4,-6.8 C0.3,-5.4 0.1,-3.5 1.1,-2.2 C2.1,-0.9 3.9,-0.35 5.9,-0.35 C8.6,-0.35 11.0,-1.8 12.3,-3.8" fill="none" stroke="#000" stroke-width="1.35" stroke-linecap="round"/><path d="M5.4,-9.3 H9.6" fill="none" stroke="#000" stroke-width="1.5" stroke-linecap="round"/></g>
<path d="M520.1,222.3 h23.3 M520.1,229.0 h23.3" stroke="#000" stroke-width="1.3" fill="none"/>
<text transform="translate(554.5,235.0)" font-size="35.5" class="ser">3.16</text>
<g transform="translate(652,235.0)" fill="#000"><path d="M0.1,-9.9 C1.5,-12.9 4.0,-16.0 7.2,-16.0 C10.6,-16.0 12.4,-12.6 13.1,-8.2 C13.4,-6.5 13.6,-5 13.7,-3.8 L12.5,-3.4 C12.3,-5.2 12.0,-7 11.6,-8.6 C10.9,-11.6 9.6,-13.3 7.0,-13.3 C4.6,-13.3 2.6,-11.6 1.0,-9.1 Z"/><path d="M18.1,-15.8 L19.0,-15.3 C17,-11.5 15,-7.5 13.8,-3.6 C12.8,-0.4 11.8,3.2 11.2,6.5 L9.5,6.1 C10.3,2.6 11.4,-1.0 12.6,-4.2 C14,-8 16,-12 18.1,-15.8 Z"/></g>
<path d="M683,222.3 h23.3 M683,229.0 h23.3" stroke="#000" stroke-width="1.3" fill="none"/>
<text transform="translate(718.5,235.0)" font-size="35.5" class="ser">10.0</text>
<text transform="translate(46.8,30.9) scale(1.0,1.025)" font-size="35.0">0.25</text>
<text transform="translate(57.8,137.0) scale(1.0,1.025)" font-size="35.0">0.2</text>
<text transform="translate(46.8,243.5) scale(1.0,1.025)" font-size="35.0">0.15</text>
<text transform="translate(57.8,350.3) scale(1.0,1.025)" font-size="35.0">0.1</text>
<text transform="translate(46.8,457.0) scale(1.0,1.025)" font-size="35.0">0.05</text>
<text transform="translate(67.1,551.2) scale(1.0,1.025)" font-size="35.0">0</text>
<text transform="translate(100.0,591.5) scale(1.0,1.025)" font-size="35.0">10</text>
<text transform="translate(139.0,571.4) scale(1.0,1.025)" font-size="22.4">−</text>
<text transform="translate(151.48160000000001,569.9) scale(0.8,1.025)" font-size="22.4">1</text>
<text transform="translate(329.1,591.5) scale(1.0,1.025)" font-size="35.0">10</text>
<text transform="translate(367.5,569.9) scale(1.0,1.025)" font-size="22.4">0</text>
<text transform="translate(554.2,591.5) scale(1.0,1.025)" font-size="35.0">10</text>
<text transform="translate(593.0,569.9) scale(0.8,1.025)" font-size="22.4">1</text>
<text transform="translate(779.3,591.5) scale(1.0,1.025)" font-size="35.0">10</text>
<text transform="translate(817.5,569.9) scale(1.0,1.025)" font-size="22.4">2</text>
<text transform="translate(338.0,634.1)" font-size="35.2">sampling interval</text>
<text transform="translate(29.5,501.4) rotate(-90)" font-size="35.08">diffusivity constant estimator</text>
</svg></body></html>
